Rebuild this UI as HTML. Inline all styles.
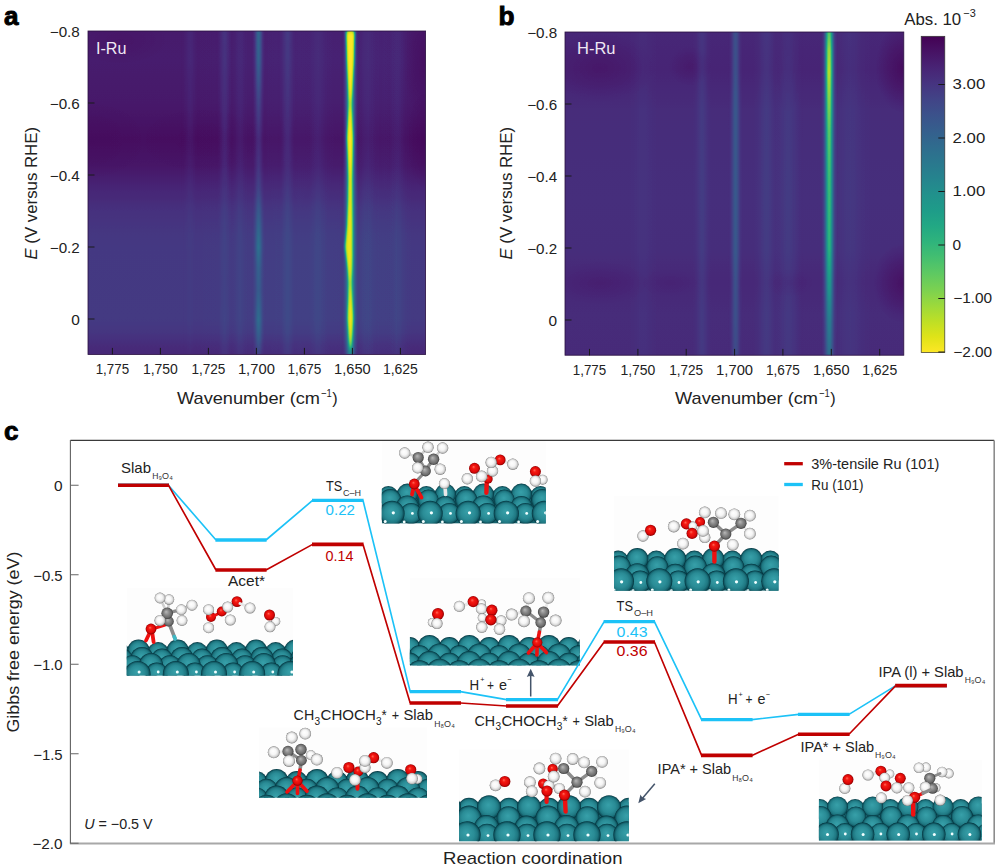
<!DOCTYPE html>
<html><head><meta charset="utf-8"><title>Figure</title>
<style>html,body{margin:0;padding:0;background:#fff}svg{display:block}text{font-family:"Liberation Sans", sans-serif}</style>
</head><body>
<svg width="999" height="868" viewBox="0 0 999 868">
<defs>
<filter id="vir" x="0" y="0" width="100%" height="100%" filterUnits="objectBoundingBox" color-interpolation-filters="sRGB">
<feComponentTransfer><feFuncR type="table" tableValues="0.267 0.278 0.282 0.275 0.255 0.231 0.208 0.184 0.165 0.145 0.129 0.118 0.133 0.184 0.267 0.369 0.478 0.608 0.741 0.875 0.992"/><feFuncG type="table" tableValues="0.004 0.075 0.141 0.204 0.267 0.322 0.373 0.424 0.471 0.518 0.569 0.612 0.659 0.706 0.749 0.788 0.820 0.851 0.875 0.890 0.906"/><feFuncB type="table" tableValues="0.329 0.396 0.459 0.502 0.529 0.545 0.553 0.557 0.557 0.557 0.549 0.537 0.518 0.486 0.439 0.384 0.318 0.235 0.149 0.094 0.145"/></feComponentTransfer></filter>
<filter id="b1" x="-50%" y="-5%" width="200%" height="110%"><feGaussianBlur stdDeviation="0.85 2.5"/></filter>
<filter id="b2" x="-50%" y="-5%" width="200%" height="110%"><feGaussianBlur stdDeviation="1.3 3"/></filter>
<clipPath id="ca"><rect x="88.0" y="31.0" width="337.6" height="323.5"/></clipPath>
<linearGradient id="g1" gradientUnits="userSpaceOnUse" x1="0" y1="31.0" x2="0" y2="354.5"><stop offset="0.000" stop-color="#131313"/><stop offset="0.090" stop-color="#141414"/><stop offset="0.223" stop-color="#111111"/><stop offset="0.334" stop-color="#0a0a0a"/><stop offset="0.414" stop-color="#0f0f0f"/><stop offset="0.491" stop-color="#1b1b1b"/><stop offset="0.556" stop-color="#242424"/><stop offset="0.631" stop-color="#292929"/><stop offset="0.668" stop-color="#2a2a2a"/><stop offset="0.890" stop-color="#2b2b2b"/><stop offset="0.930" stop-color="#282828"/><stop offset="0.971" stop-color="#202020"/><stop offset="1.000" stop-color="#1c1c1c"/></linearGradient>
<linearGradient id="g2" gradientUnits="userSpaceOnUse" x1="165.0" y1="0" x2="435.0" y2="0"><stop offset="0.000" stop-color="#fff" stop-opacity="0.000"/><stop offset="0.083" stop-color="#fff" stop-opacity="0.001"/><stop offset="0.167" stop-color="#fff" stop-opacity="0.003"/><stop offset="0.250" stop-color="#fff" stop-opacity="0.008"/><stop offset="0.333" stop-color="#fff" stop-opacity="0.015"/><stop offset="0.417" stop-color="#fff" stop-opacity="0.022"/><stop offset="0.500" stop-color="#fff" stop-opacity="0.025"/><stop offset="0.583" stop-color="#fff" stop-opacity="0.022"/><stop offset="0.667" stop-color="#fff" stop-opacity="0.015"/><stop offset="0.750" stop-color="#fff" stop-opacity="0.008"/><stop offset="0.833" stop-color="#fff" stop-opacity="0.003"/><stop offset="0.917" stop-color="#fff" stop-opacity="0.001"/><stop offset="1.000" stop-color="#fff" stop-opacity="0.000"/></linearGradient>
<linearGradient id="g3" gradientUnits="userSpaceOnUse" x1="349.0" y1="0" x2="421.0" y2="0"><stop offset="0.000" stop-color="#fff" stop-opacity="0.000"/><stop offset="0.083" stop-color="#fff" stop-opacity="0.001"/><stop offset="0.167" stop-color="#fff" stop-opacity="0.003"/><stop offset="0.250" stop-color="#fff" stop-opacity="0.006"/><stop offset="0.333" stop-color="#fff" stop-opacity="0.012"/><stop offset="0.417" stop-color="#fff" stop-opacity="0.018"/><stop offset="0.500" stop-color="#fff" stop-opacity="0.020"/><stop offset="0.583" stop-color="#fff" stop-opacity="0.018"/><stop offset="0.667" stop-color="#fff" stop-opacity="0.012"/><stop offset="0.750" stop-color="#fff" stop-opacity="0.006"/><stop offset="0.833" stop-color="#fff" stop-opacity="0.003"/><stop offset="0.917" stop-color="#fff" stop-opacity="0.001"/><stop offset="1.000" stop-color="#fff" stop-opacity="0.000"/></linearGradient>
<radialGradient id="g4"><stop offset="0" stop-color="#000" stop-opacity="0.5"/><stop offset=".5" stop-color="#000" stop-opacity="0.275"/><stop offset="1" stop-color="#000" stop-opacity="0"/></radialGradient>
<radialGradient id="g5"><stop offset="0" stop-color="#000" stop-opacity="0.45"/><stop offset=".5" stop-color="#000" stop-opacity="0.248"/><stop offset="1" stop-color="#000" stop-opacity="0"/></radialGradient>
<radialGradient id="g6"><stop offset="0" stop-color="#000" stop-opacity="0.25"/><stop offset=".5" stop-color="#000" stop-opacity="0.138"/><stop offset="1" stop-color="#000" stop-opacity="0"/></radialGradient>
<radialGradient id="g7"><stop offset="0" stop-color="#000" stop-opacity="0.2"/><stop offset=".5" stop-color="#000" stop-opacity="0.110"/><stop offset="1" stop-color="#000" stop-opacity="0"/></radialGradient>
<radialGradient id="g8"><stop offset="0" stop-color="#000" stop-opacity="0.25"/><stop offset=".5" stop-color="#000" stop-opacity="0.138"/><stop offset="1" stop-color="#000" stop-opacity="0"/></radialGradient>
<linearGradient id="g9" gradientUnits="userSpaceOnUse" x1="179.5" y1="0" x2="200.5" y2="0"><stop offset="0.000" stop-color="#fff" stop-opacity="0.000"/><stop offset="0.083" stop-color="#fff" stop-opacity="0.002"/><stop offset="0.167" stop-color="#fff" stop-opacity="0.005"/><stop offset="0.250" stop-color="#fff" stop-opacity="0.011"/><stop offset="0.333" stop-color="#fff" stop-opacity="0.021"/><stop offset="0.417" stop-color="#fff" stop-opacity="0.031"/><stop offset="0.500" stop-color="#fff" stop-opacity="0.035"/><stop offset="0.583" stop-color="#fff" stop-opacity="0.031"/><stop offset="0.667" stop-color="#fff" stop-opacity="0.021"/><stop offset="0.750" stop-color="#fff" stop-opacity="0.011"/><stop offset="0.833" stop-color="#fff" stop-opacity="0.005"/><stop offset="0.917" stop-color="#fff" stop-opacity="0.002"/><stop offset="1.000" stop-color="#fff" stop-opacity="0.000"/></linearGradient>
<linearGradient id="g10" gradientUnits="userSpaceOnUse" x1="0" y1="31.0" x2="0" y2="354.5"><stop offset="0.000" stop-color="#ffffff"/><stop offset="0.368" stop-color="#cccccc"/><stop offset="0.677" stop-color="#4c4c4c"/><stop offset="0.998" stop-color="#4c4c4c"/></linearGradient>
<mask id="m11" maskUnits="userSpaceOnUse" x="179.5" y="31.0" width="21.0" height="323.5"><rect x="179.5" y="31.0" width="21.0" height="323.5" fill="url(#g10)"/></mask>
<linearGradient id="g12" gradientUnits="userSpaceOnUse" x1="215.5" y1="0" x2="233.5" y2="0"><stop offset="0.000" stop-color="#fff" stop-opacity="0.001"/><stop offset="0.083" stop-color="#fff" stop-opacity="0.003"/><stop offset="0.167" stop-color="#fff" stop-opacity="0.010"/><stop offset="0.250" stop-color="#fff" stop-opacity="0.024"/><stop offset="0.333" stop-color="#fff" stop-opacity="0.045"/><stop offset="0.417" stop-color="#fff" stop-opacity="0.066"/><stop offset="0.500" stop-color="#fff" stop-opacity="0.075"/><stop offset="0.583" stop-color="#fff" stop-opacity="0.066"/><stop offset="0.667" stop-color="#fff" stop-opacity="0.045"/><stop offset="0.750" stop-color="#fff" stop-opacity="0.024"/><stop offset="0.833" stop-color="#fff" stop-opacity="0.010"/><stop offset="0.917" stop-color="#fff" stop-opacity="0.003"/><stop offset="1.000" stop-color="#fff" stop-opacity="0.001"/></linearGradient>
<linearGradient id="g13" gradientUnits="userSpaceOnUse" x1="0" y1="31.0" x2="0" y2="354.5"><stop offset="0.000" stop-color="#ffffff"/><stop offset="0.275" stop-color="#cccccc"/><stop offset="0.522" stop-color="#8c8c8c"/><stop offset="0.770" stop-color="#666666"/><stop offset="0.998" stop-color="#808080"/></linearGradient>
<mask id="m14" maskUnits="userSpaceOnUse" x="215.5" y="31.0" width="18.0" height="323.5"><rect x="215.5" y="31.0" width="18.0" height="323.5" fill="url(#g13)"/></mask>
<linearGradient id="g15" gradientUnits="userSpaceOnUse" x1="231.0" y1="0" x2="249.0" y2="0"><stop offset="0.000" stop-color="#fff" stop-opacity="0.000"/><stop offset="0.083" stop-color="#fff" stop-opacity="0.001"/><stop offset="0.167" stop-color="#fff" stop-opacity="0.004"/><stop offset="0.250" stop-color="#fff" stop-opacity="0.010"/><stop offset="0.333" stop-color="#fff" stop-opacity="0.018"/><stop offset="0.417" stop-color="#fff" stop-opacity="0.026"/><stop offset="0.500" stop-color="#fff" stop-opacity="0.030"/><stop offset="0.583" stop-color="#fff" stop-opacity="0.026"/><stop offset="0.667" stop-color="#fff" stop-opacity="0.018"/><stop offset="0.750" stop-color="#fff" stop-opacity="0.010"/><stop offset="0.833" stop-color="#fff" stop-opacity="0.004"/><stop offset="0.917" stop-color="#fff" stop-opacity="0.001"/><stop offset="1.000" stop-color="#fff" stop-opacity="0.000"/></linearGradient>
<linearGradient id="g16" gradientUnits="userSpaceOnUse" x1="277.9" y1="0" x2="297.1" y2="0"><stop offset="0.000" stop-color="#fff" stop-opacity="0.001"/><stop offset="0.083" stop-color="#fff" stop-opacity="0.004"/><stop offset="0.167" stop-color="#fff" stop-opacity="0.011"/><stop offset="0.250" stop-color="#fff" stop-opacity="0.026"/><stop offset="0.333" stop-color="#fff" stop-opacity="0.049"/><stop offset="0.417" stop-color="#fff" stop-opacity="0.071"/><stop offset="0.500" stop-color="#fff" stop-opacity="0.080"/><stop offset="0.583" stop-color="#fff" stop-opacity="0.071"/><stop offset="0.667" stop-color="#fff" stop-opacity="0.049"/><stop offset="0.750" stop-color="#fff" stop-opacity="0.026"/><stop offset="0.833" stop-color="#fff" stop-opacity="0.011"/><stop offset="0.917" stop-color="#fff" stop-opacity="0.004"/><stop offset="1.000" stop-color="#fff" stop-opacity="0.001"/></linearGradient>
<linearGradient id="g17" gradientUnits="userSpaceOnUse" x1="0" y1="31.0" x2="0" y2="354.5"><stop offset="0.000" stop-color="#ffffff"/><stop offset="0.337" stop-color="#b2b2b2"/><stop offset="0.615" stop-color="#808080"/><stop offset="0.998" stop-color="#808080"/></linearGradient>
<mask id="m18" maskUnits="userSpaceOnUse" x="277.9" y="31.0" width="19.2" height="323.5"><rect x="277.9" y="31.0" width="19.2" height="323.5" fill="url(#g17)"/></mask>
<linearGradient id="g19" gradientUnits="userSpaceOnUse" x1="251.7" y1="0" x2="265.5" y2="0"><stop offset="0.000" stop-color="#fff" stop-opacity="0.003"/><stop offset="0.083" stop-color="#fff" stop-opacity="0.012"/><stop offset="0.167" stop-color="#fff" stop-opacity="0.037"/><stop offset="0.250" stop-color="#fff" stop-opacity="0.088"/><stop offset="0.333" stop-color="#fff" stop-opacity="0.164"/><stop offset="0.417" stop-color="#fff" stop-opacity="0.238"/><stop offset="0.500" stop-color="#fff" stop-opacity="0.270"/><stop offset="0.583" stop-color="#fff" stop-opacity="0.238"/><stop offset="0.667" stop-color="#fff" stop-opacity="0.164"/><stop offset="0.750" stop-color="#fff" stop-opacity="0.088"/><stop offset="0.833" stop-color="#fff" stop-opacity="0.037"/><stop offset="0.917" stop-color="#fff" stop-opacity="0.012"/><stop offset="1.000" stop-color="#fff" stop-opacity="0.003"/></linearGradient>
<linearGradient id="g20" gradientUnits="userSpaceOnUse" x1="0" y1="31.0" x2="0" y2="354.5"><stop offset="0.000" stop-color="#ffffff"/><stop offset="0.090" stop-color="#e6e6e6"/><stop offset="0.213" stop-color="#808080"/><stop offset="0.337" stop-color="#474747"/><stop offset="0.491" stop-color="#595959"/><stop offset="0.600" stop-color="#b2b2b2"/><stop offset="0.668" stop-color="#e6e6e6"/><stop offset="0.733" stop-color="#999999"/><stop offset="0.801" stop-color="#808080"/><stop offset="0.893" stop-color="#cccccc"/><stop offset="0.955" stop-color="#8c8c8c"/><stop offset="0.998" stop-color="#4c4c4c"/></linearGradient>
<mask id="m21" maskUnits="userSpaceOnUse" x="251.7" y="31.0" width="13.8" height="323.5"><rect x="251.7" y="31.0" width="13.8" height="323.5" fill="url(#g20)"/></mask>
<linearGradient id="g22" gradientUnits="userSpaceOnUse" x1="306.0" y1="0" x2="330.0" y2="0"><stop offset="0.000" stop-color="#fff" stop-opacity="0.000"/><stop offset="0.083" stop-color="#fff" stop-opacity="0.001"/><stop offset="0.167" stop-color="#fff" stop-opacity="0.004"/><stop offset="0.250" stop-color="#fff" stop-opacity="0.010"/><stop offset="0.333" stop-color="#fff" stop-opacity="0.018"/><stop offset="0.417" stop-color="#fff" stop-opacity="0.026"/><stop offset="0.500" stop-color="#fff" stop-opacity="0.030"/><stop offset="0.583" stop-color="#fff" stop-opacity="0.026"/><stop offset="0.667" stop-color="#fff" stop-opacity="0.018"/><stop offset="0.750" stop-color="#fff" stop-opacity="0.010"/><stop offset="0.833" stop-color="#fff" stop-opacity="0.004"/><stop offset="0.917" stop-color="#fff" stop-opacity="0.001"/><stop offset="1.000" stop-color="#fff" stop-opacity="0.000"/></linearGradient>
<linearGradient id="g23" gradientUnits="userSpaceOnUse" x1="352.0" y1="0" x2="382.0" y2="0"><stop offset="0.000" stop-color="#fff" stop-opacity="0.000"/><stop offset="0.083" stop-color="#fff" stop-opacity="0.002"/><stop offset="0.167" stop-color="#fff" stop-opacity="0.005"/><stop offset="0.250" stop-color="#fff" stop-opacity="0.011"/><stop offset="0.333" stop-color="#fff" stop-opacity="0.021"/><stop offset="0.417" stop-color="#fff" stop-opacity="0.031"/><stop offset="0.500" stop-color="#fff" stop-opacity="0.035"/><stop offset="0.583" stop-color="#fff" stop-opacity="0.031"/><stop offset="0.667" stop-color="#fff" stop-opacity="0.021"/><stop offset="0.750" stop-color="#fff" stop-opacity="0.011"/><stop offset="0.833" stop-color="#fff" stop-opacity="0.005"/><stop offset="0.917" stop-color="#fff" stop-opacity="0.002"/><stop offset="1.000" stop-color="#fff" stop-opacity="0.000"/></linearGradient>
<linearGradient id="g24" gradientUnits="userSpaceOnUse" x1="386.0" y1="0" x2="410.0" y2="0"><stop offset="0.000" stop-color="#fff" stop-opacity="0.000"/><stop offset="0.083" stop-color="#fff" stop-opacity="0.001"/><stop offset="0.167" stop-color="#fff" stop-opacity="0.004"/><stop offset="0.250" stop-color="#fff" stop-opacity="0.010"/><stop offset="0.333" stop-color="#fff" stop-opacity="0.018"/><stop offset="0.417" stop-color="#fff" stop-opacity="0.026"/><stop offset="0.500" stop-color="#fff" stop-opacity="0.030"/><stop offset="0.583" stop-color="#fff" stop-opacity="0.026"/><stop offset="0.667" stop-color="#fff" stop-opacity="0.018"/><stop offset="0.750" stop-color="#fff" stop-opacity="0.010"/><stop offset="0.833" stop-color="#fff" stop-opacity="0.004"/><stop offset="0.917" stop-color="#fff" stop-opacity="0.001"/><stop offset="1.000" stop-color="#fff" stop-opacity="0.000"/></linearGradient>
<linearGradient id="g25" gradientUnits="userSpaceOnUse" x1="342.3" y1="0" x2="358.5" y2="0"><stop offset="0.000" stop-color="#fff" stop-opacity="0.008"/><stop offset="0.083" stop-color="#fff" stop-opacity="0.031"/><stop offset="0.167" stop-color="#fff" stop-opacity="0.095"/><stop offset="0.250" stop-color="#fff" stop-opacity="0.227"/><stop offset="0.333" stop-color="#fff" stop-opacity="0.425"/><stop offset="0.417" stop-color="#fff" stop-opacity="0.618"/><stop offset="0.500" stop-color="#fff" stop-opacity="0.700"/><stop offset="0.583" stop-color="#fff" stop-opacity="0.618"/><stop offset="0.667" stop-color="#fff" stop-opacity="0.425"/><stop offset="0.750" stop-color="#fff" stop-opacity="0.227"/><stop offset="0.833" stop-color="#fff" stop-opacity="0.095"/><stop offset="0.917" stop-color="#fff" stop-opacity="0.031"/><stop offset="1.000" stop-color="#fff" stop-opacity="0.008"/></linearGradient>
<linearGradient id="g26" gradientUnits="userSpaceOnUse" x1="0" y1="31.0" x2="0" y2="354.5"><stop offset="0.000" stop-color="#ffffff"/><stop offset="0.213" stop-color="#f2f2f2"/><stop offset="0.522" stop-color="#f2f2f2"/><stop offset="0.668" stop-color="#ffffff"/><stop offset="0.776" stop-color="#d9d9d9"/><stop offset="0.887" stop-color="#ffffff"/><stop offset="0.955" stop-color="#cccccc"/><stop offset="1.000" stop-color="#808080"/></linearGradient>
<mask id="m27" maskUnits="userSpaceOnUse" x="342.3" y="31.0" width="16.2" height="323.5"><rect x="342.3" y="31.0" width="16.2" height="323.5" fill="url(#g26)"/></mask>
<linearGradient id="g28" gradientUnits="userSpaceOnUse" x1="0" y1="31.0" x2="0" y2="354.5"><stop offset="0" stop-color="#fff"/><stop offset=".4" stop-color="#fff"/><stop offset=".52" stop-color="#fff" stop-opacity=".8"/><stop offset="1" stop-color="#fff" stop-opacity=".8"/></linearGradient>
<clipPath id="cb"><rect x="565.0" y="32.0" width="338.79999999999995" height="323.2"/></clipPath>
<linearGradient id="g29" gradientUnits="userSpaceOnUse" x1="0" y1="32.0" x2="0" y2="355.2"><stop offset="0.000" stop-color="#1c1c1c"/><stop offset="0.118" stop-color="#1a1a1a"/><stop offset="0.241" stop-color="#202020"/><stop offset="0.520" stop-color="#222222"/><stop offset="0.675" stop-color="#212121"/><stop offset="0.777" stop-color="#1d1d1d"/><stop offset="0.876" stop-color="#202020"/><stop offset="1.000" stop-color="#1f1f1f"/></linearGradient>
<radialGradient id="g30"><stop offset="0" stop-color="#000" stop-opacity="0.38"/><stop offset=".5" stop-color="#000" stop-opacity="0.209"/><stop offset="1" stop-color="#000" stop-opacity="0"/></radialGradient>
<radialGradient id="g31"><stop offset="0" stop-color="#000" stop-opacity="0.3"/><stop offset=".5" stop-color="#000" stop-opacity="0.165"/><stop offset="1" stop-color="#000" stop-opacity="0"/></radialGradient>
<radialGradient id="g32"><stop offset="0" stop-color="#000" stop-opacity="0.7"/><stop offset=".5" stop-color="#000" stop-opacity="0.385"/><stop offset="1" stop-color="#000" stop-opacity="0"/></radialGradient>
<radialGradient id="g33"><stop offset="0" stop-color="#000" stop-opacity="0.25"/><stop offset=".5" stop-color="#000" stop-opacity="0.138"/><stop offset="1" stop-color="#000" stop-opacity="0"/></radialGradient>
<radialGradient id="g34"><stop offset="0" stop-color="#000" stop-opacity="0.6"/><stop offset=".5" stop-color="#000" stop-opacity="0.330"/><stop offset="1" stop-color="#000" stop-opacity="0"/></radialGradient>
<radialGradient id="g35"><stop offset="0" stop-color="#000" stop-opacity="0.15"/><stop offset=".5" stop-color="#000" stop-opacity="0.083"/><stop offset="1" stop-color="#000" stop-opacity="0"/></radialGradient>
<radialGradient id="g36"><stop offset="0" stop-color="#000" stop-opacity="0.15"/><stop offset=".5" stop-color="#000" stop-opacity="0.083"/><stop offset="1" stop-color="#000" stop-opacity="0"/></radialGradient>
<linearGradient id="g37" gradientUnits="userSpaceOnUse" x1="625.0" y1="0" x2="661.0" y2="0"><stop offset="0.000" stop-color="#fff" stop-opacity="0.000"/><stop offset="0.083" stop-color="#fff" stop-opacity="0.001"/><stop offset="0.167" stop-color="#fff" stop-opacity="0.003"/><stop offset="0.250" stop-color="#fff" stop-opacity="0.006"/><stop offset="0.333" stop-color="#fff" stop-opacity="0.012"/><stop offset="0.417" stop-color="#fff" stop-opacity="0.018"/><stop offset="0.500" stop-color="#fff" stop-opacity="0.020"/><stop offset="0.583" stop-color="#fff" stop-opacity="0.018"/><stop offset="0.667" stop-color="#fff" stop-opacity="0.012"/><stop offset="0.750" stop-color="#fff" stop-opacity="0.006"/><stop offset="0.833" stop-color="#fff" stop-opacity="0.003"/><stop offset="0.917" stop-color="#fff" stop-opacity="0.001"/><stop offset="1.000" stop-color="#fff" stop-opacity="0.000"/></linearGradient>
<linearGradient id="g38" gradientUnits="userSpaceOnUse" x1="691.5" y1="0" x2="712.5" y2="0"><stop offset="0.000" stop-color="#fff" stop-opacity="0.001"/><stop offset="0.083" stop-color="#fff" stop-opacity="0.002"/><stop offset="0.167" stop-color="#fff" stop-opacity="0.007"/><stop offset="0.250" stop-color="#fff" stop-opacity="0.016"/><stop offset="0.333" stop-color="#fff" stop-opacity="0.030"/><stop offset="0.417" stop-color="#fff" stop-opacity="0.044"/><stop offset="0.500" stop-color="#fff" stop-opacity="0.050"/><stop offset="0.583" stop-color="#fff" stop-opacity="0.044"/><stop offset="0.667" stop-color="#fff" stop-opacity="0.030"/><stop offset="0.750" stop-color="#fff" stop-opacity="0.016"/><stop offset="0.833" stop-color="#fff" stop-opacity="0.007"/><stop offset="0.917" stop-color="#fff" stop-opacity="0.002"/><stop offset="1.000" stop-color="#fff" stop-opacity="0.001"/></linearGradient>
<linearGradient id="g39" gradientUnits="userSpaceOnUse" x1="751.5" y1="0" x2="781.5" y2="0"><stop offset="0.000" stop-color="#fff" stop-opacity="0.001"/><stop offset="0.083" stop-color="#fff" stop-opacity="0.002"/><stop offset="0.167" stop-color="#fff" stop-opacity="0.007"/><stop offset="0.250" stop-color="#fff" stop-opacity="0.016"/><stop offset="0.333" stop-color="#fff" stop-opacity="0.030"/><stop offset="0.417" stop-color="#fff" stop-opacity="0.044"/><stop offset="0.500" stop-color="#fff" stop-opacity="0.050"/><stop offset="0.583" stop-color="#fff" stop-opacity="0.044"/><stop offset="0.667" stop-color="#fff" stop-opacity="0.030"/><stop offset="0.750" stop-color="#fff" stop-opacity="0.016"/><stop offset="0.833" stop-color="#fff" stop-opacity="0.007"/><stop offset="0.917" stop-color="#fff" stop-opacity="0.002"/><stop offset="1.000" stop-color="#fff" stop-opacity="0.001"/></linearGradient>
<linearGradient id="g40" gradientUnits="userSpaceOnUse" x1="770.0" y1="0" x2="806.0" y2="0"><stop offset="0.000" stop-color="#fff" stop-opacity="0.001"/><stop offset="0.083" stop-color="#fff" stop-opacity="0.002"/><stop offset="0.167" stop-color="#fff" stop-opacity="0.007"/><stop offset="0.250" stop-color="#fff" stop-opacity="0.016"/><stop offset="0.333" stop-color="#fff" stop-opacity="0.030"/><stop offset="0.417" stop-color="#fff" stop-opacity="0.044"/><stop offset="0.500" stop-color="#fff" stop-opacity="0.050"/><stop offset="0.583" stop-color="#fff" stop-opacity="0.044"/><stop offset="0.667" stop-color="#fff" stop-opacity="0.030"/><stop offset="0.750" stop-color="#fff" stop-opacity="0.016"/><stop offset="0.833" stop-color="#fff" stop-opacity="0.007"/><stop offset="0.917" stop-color="#fff" stop-opacity="0.002"/><stop offset="1.000" stop-color="#fff" stop-opacity="0.001"/></linearGradient>
<linearGradient id="g41" gradientUnits="userSpaceOnUse" x1="0" y1="32.0" x2="0" y2="355.2"><stop offset="0.000" stop-color="#999999"/><stop offset="0.272" stop-color="#ffffff"/><stop offset="0.999" stop-color="#ffffff"/></linearGradient>
<mask id="m42" maskUnits="userSpaceOnUse" x="770.0" y="32.0" width="36.0" height="323.2"><rect x="770.0" y="32.0" width="36.0" height="323.2" fill="url(#g41)"/></mask>
<linearGradient id="g43" gradientUnits="userSpaceOnUse" x1="728.1" y1="0" x2="743.1" y2="0"><stop offset="0.000" stop-color="#fff" stop-opacity="0.002"/><stop offset="0.083" stop-color="#fff" stop-opacity="0.007"/><stop offset="0.167" stop-color="#fff" stop-opacity="0.023"/><stop offset="0.250" stop-color="#fff" stop-opacity="0.055"/><stop offset="0.333" stop-color="#fff" stop-opacity="0.103"/><stop offset="0.417" stop-color="#fff" stop-opacity="0.150"/><stop offset="0.500" stop-color="#fff" stop-opacity="0.170"/><stop offset="0.583" stop-color="#fff" stop-opacity="0.150"/><stop offset="0.667" stop-color="#fff" stop-opacity="0.103"/><stop offset="0.750" stop-color="#fff" stop-opacity="0.055"/><stop offset="0.833" stop-color="#fff" stop-opacity="0.023"/><stop offset="0.917" stop-color="#fff" stop-opacity="0.007"/><stop offset="1.000" stop-color="#fff" stop-opacity="0.002"/></linearGradient>
<linearGradient id="g44" gradientUnits="userSpaceOnUse" x1="0" y1="32.0" x2="0" y2="355.2"><stop offset="0.000" stop-color="#e6e6e6"/><stop offset="0.210" stop-color="#ffffff"/><stop offset="0.675" stop-color="#ffffff"/><stop offset="0.829" stop-color="#d9d9d9"/><stop offset="1.000" stop-color="#b2b2b2"/></linearGradient>
<mask id="m45" maskUnits="userSpaceOnUse" x="728.1" y="32.0" width="15.0" height="323.2"><rect x="728.1" y="32.0" width="15.0" height="323.2" fill="url(#g44)"/></mask>
<linearGradient id="g46" gradientUnits="userSpaceOnUse" x1="826.0" y1="0" x2="874.0" y2="0"><stop offset="0.000" stop-color="#fff" stop-opacity="0.000"/><stop offset="0.083" stop-color="#fff" stop-opacity="0.002"/><stop offset="0.167" stop-color="#fff" stop-opacity="0.005"/><stop offset="0.250" stop-color="#fff" stop-opacity="0.011"/><stop offset="0.333" stop-color="#fff" stop-opacity="0.021"/><stop offset="0.417" stop-color="#fff" stop-opacity="0.031"/><stop offset="0.500" stop-color="#fff" stop-opacity="0.035"/><stop offset="0.583" stop-color="#fff" stop-opacity="0.031"/><stop offset="0.667" stop-color="#fff" stop-opacity="0.021"/><stop offset="0.750" stop-color="#fff" stop-opacity="0.011"/><stop offset="0.833" stop-color="#fff" stop-opacity="0.005"/><stop offset="0.917" stop-color="#fff" stop-opacity="0.002"/><stop offset="1.000" stop-color="#fff" stop-opacity="0.000"/></linearGradient>
<linearGradient id="g47" gradientUnits="userSpaceOnUse" x1="821.1" y1="0" x2="837.3" y2="0"><stop offset="0.000" stop-color="#fff" stop-opacity="0.007"/><stop offset="0.083" stop-color="#fff" stop-opacity="0.028"/><stop offset="0.167" stop-color="#fff" stop-opacity="0.087"/><stop offset="0.250" stop-color="#fff" stop-opacity="0.208"/><stop offset="0.333" stop-color="#fff" stop-opacity="0.388"/><stop offset="0.417" stop-color="#fff" stop-opacity="0.565"/><stop offset="0.500" stop-color="#fff" stop-opacity="0.640"/><stop offset="0.583" stop-color="#fff" stop-opacity="0.565"/><stop offset="0.667" stop-color="#fff" stop-opacity="0.388"/><stop offset="0.750" stop-color="#fff" stop-opacity="0.208"/><stop offset="0.833" stop-color="#fff" stop-opacity="0.087"/><stop offset="0.917" stop-color="#fff" stop-opacity="0.028"/><stop offset="1.000" stop-color="#fff" stop-opacity="0.007"/></linearGradient>
<linearGradient id="g48" gradientUnits="userSpaceOnUse" x1="0" y1="32.0" x2="0" y2="355.2"><stop offset="0.000" stop-color="#d9d9d9"/><stop offset="0.056" stop-color="#ffffff"/><stop offset="0.665" stop-color="#e6e6e6"/><stop offset="0.798" stop-color="#b8b8b8"/><stop offset="0.891" stop-color="#8c8c8c"/><stop offset="1.000" stop-color="#6b6b6b"/></linearGradient>
<mask id="m49" maskUnits="userSpaceOnUse" x="821.1" y="32.0" width="16.2" height="323.2"><rect x="821.1" y="32.0" width="16.2" height="323.2" fill="url(#g48)"/></mask>
<linearGradient id="g50" gradientUnits="userSpaceOnUse" x1="823.3" y1="0" x2="834.7" y2="0"><stop offset="0.000" stop-color="#fff" stop-opacity="0.008"/><stop offset="0.083" stop-color="#fff" stop-opacity="0.032"/><stop offset="0.167" stop-color="#fff" stop-opacity="0.097"/><stop offset="0.250" stop-color="#fff" stop-opacity="0.234"/><stop offset="0.333" stop-color="#fff" stop-opacity="0.437"/><stop offset="0.417" stop-color="#fff" stop-opacity="0.635"/><stop offset="0.500" stop-color="#fff" stop-opacity="0.720"/><stop offset="0.583" stop-color="#fff" stop-opacity="0.635"/><stop offset="0.667" stop-color="#fff" stop-opacity="0.437"/><stop offset="0.750" stop-color="#fff" stop-opacity="0.234"/><stop offset="0.833" stop-color="#fff" stop-opacity="0.097"/><stop offset="0.917" stop-color="#fff" stop-opacity="0.032"/><stop offset="1.000" stop-color="#fff" stop-opacity="0.008"/></linearGradient>
<linearGradient id="g51" gradientUnits="userSpaceOnUse" x1="0" y1="32.0" x2="0" y2="355.2"><stop offset="0.000" stop-color="#808080"/><stop offset="0.056" stop-color="#cccccc"/><stop offset="0.124" stop-color="#ffffff"/><stop offset="0.195" stop-color="#bfbfbf"/><stop offset="0.303" stop-color="#666666"/><stop offset="0.458" stop-color="#333333"/><stop offset="0.675" stop-color="#1a1a1a"/><stop offset="0.829" stop-color="#000000"/><stop offset="0.999" stop-color="#000000"/></linearGradient>
<mask id="m52" maskUnits="userSpaceOnUse" x="823.3" y="32.0" width="11.4" height="323.2"><rect x="823.3" y="32.0" width="11.4" height="323.2" fill="url(#g51)"/></mask>
<linearGradient id="g53" x1="0" y1="0" x2="0" y2="1"><stop offset="0.00" stop-color="#440154"/><stop offset="0.05" stop-color="#471365"/><stop offset="0.10" stop-color="#482475"/><stop offset="0.15" stop-color="#463480"/><stop offset="0.20" stop-color="#414487"/><stop offset="0.25" stop-color="#3b528b"/><stop offset="0.30" stop-color="#355f8d"/><stop offset="0.35" stop-color="#2f6c8e"/><stop offset="0.40" stop-color="#2a788e"/><stop offset="0.45" stop-color="#25848e"/><stop offset="0.50" stop-color="#21918c"/><stop offset="0.55" stop-color="#1e9c89"/><stop offset="0.60" stop-color="#22a884"/><stop offset="0.65" stop-color="#2fb47c"/><stop offset="0.70" stop-color="#44bf70"/><stop offset="0.75" stop-color="#5ec962"/><stop offset="0.80" stop-color="#7ad151"/><stop offset="0.85" stop-color="#9bd93c"/><stop offset="0.90" stop-color="#bddf26"/><stop offset="0.95" stop-color="#dfe318"/><stop offset="1.00" stop-color="#fde725"/></linearGradient>
<radialGradient id="gRu" cx=".5" cy=".5" r=".5" fx=".47" fy=".4"><stop offset="0" stop-color="#37a0a9"/><stop offset=".55" stop-color="#2a8c96"/><stop offset=".78" stop-color="#1f7882"/><stop offset=".9" stop-color="#115a65"/><stop offset="1" stop-color="#02303a"/></radialGradient>
<radialGradient id="gH" cx=".5" cy=".5" r=".5" fx=".42" fy=".38"><stop offset="0" stop-color="#fff"/><stop offset=".5" stop-color="#f6f6f6"/><stop offset=".75" stop-color="#dcdcdc"/><stop offset=".9" stop-color="#b4b4b4"/><stop offset="1" stop-color="#6c6c6c"/></radialGradient>
<radialGradient id="gO" cx=".5" cy=".5" r=".5" fx=".4" fy=".36"><stop offset="0" stop-color="#ff6a5a"/><stop offset=".3" stop-color="#f51a12"/><stop offset=".75" stop-color="#dd0808"/><stop offset="1" stop-color="#8a0000"/></radialGradient>
<radialGradient id="gC" cx=".5" cy=".5" r=".5" fx=".4" fy=".36"><stop offset="0" stop-color="#b9b9b9"/><stop offset=".45" stop-color="#8a8a8a"/><stop offset=".8" stop-color="#6a6a6a"/><stop offset="1" stop-color="#3c3c3c"/></radialGradient>
<clipPath id="c54"><rect x="126.8" y="588.0" width="166.2" height="87.5"/></clipPath>
<clipPath id="c55"><rect x="381.8" y="441.2" width="164.0" height="82.4"/></clipPath>
<clipPath id="c56"><rect x="409.9" y="578.0" width="169.8" height="87.3"/></clipPath>
<clipPath id="c57"><rect x="259.1" y="727.6" width="167.8" height="70.0"/></clipPath>
<clipPath id="c58"><rect x="459.1" y="749.5" width="169.7" height="91.7"/></clipPath>
<clipPath id="c59"><rect x="614.1" y="495.7" width="164.5" height="95.1"/></clipPath>
<clipPath id="c60"><rect x="818.9" y="760.0" width="162.8" height="80.5"/></clipPath>
</defs>
<rect width="999" height="868" fill="#fff"/>
<g fill="#222">
<g clip-path="url(#ca)"><g filter="url(#vir)">
<rect x="87.0" y="30.0" width="339.6" height="325.5" fill="url(#g1)"/>
<rect x="165.0" y="31.0" width="270.0" height="323.5" fill="url(#g2)"/>
<rect x="349.0" y="31.0" width="72.0" height="323.5" fill="url(#g3)"/>
<ellipse cx="425" cy="60" rx="22" ry="60" fill="url(#g4)"/>
<ellipse cx="425" cy="140" rx="18" ry="50" fill="url(#g5)"/>
<ellipse cx="92" cy="140" rx="60" ry="40" fill="url(#g6)"/>
<ellipse cx="200" cy="140" rx="70" ry="35" fill="url(#g7)"/>
<ellipse cx="120" cy="40" rx="50" ry="25" fill="url(#g8)"/>
<rect x="179.5" y="31.0" width="21.0" height="323.5" fill="url(#g9)" mask="url(#m11)"/>
<rect x="215.5" y="31.0" width="18.0" height="323.5" fill="url(#g12)" mask="url(#m14)"/>
<rect x="231.0" y="31.0" width="18.0" height="323.5" fill="url(#g15)"/>
<rect x="277.9" y="31.0" width="19.2" height="323.5" fill="url(#g16)" mask="url(#m18)"/>
<rect x="251.7" y="31.0" width="13.8" height="323.5" fill="url(#g19)" mask="url(#m21)"/>
<rect x="306.0" y="31.0" width="24.0" height="323.5" fill="url(#g22)"/>
<rect x="352.0" y="31.0" width="30.0" height="323.5" fill="url(#g23)"/>
<rect x="386.0" y="31.0" width="24.0" height="323.5" fill="url(#g24)"/>
<rect x="342.3" y="31.0" width="16.2" height="323.5" fill="url(#g25)" mask="url(#m27)"/>
<path d="M346.6 31 L347.3 60 L348.8 90 L349.4 104 L348.5 120 L347.4 138 L348.4 160 L349.0 178 L348.6 200 L347.5 225 L346.0 240 L345.3 247 L346.5 256 L348.3 270 L349.3 283 L348.9 300 L348.3 312 L348.2 320 L348.9 330 L349.6 340 L350.2 348 L350.6 348 L351.2 340 L352.0 330 L352.6 320 L352.4 312 L351.6 300 L350.6 283 L351.4 270 L351.8 256 L351.6 247 L351.7 240 L351.8 225 L351.6 200 L351.4 178 L352.0 160 L352.5 138 L351.6 120 L350.6 104 L351.8 90 L353.6 60 L354.2 31Z" fill="#fff" opacity=".55" filter="url(#b2)"/>
<path d="M346.6 31 L347.3 60 L348.8 90 L349.4 104 L348.5 120 L347.4 138 L348.4 160 L349.0 178 L348.6 200 L347.5 225 L346.0 240 L345.3 247 L346.5 256 L348.3 270 L349.3 283 L348.9 300 L348.3 312 L348.2 320 L348.9 330 L349.6 340 L350.2 348 L350.6 348 L351.2 340 L352.0 330 L352.6 320 L352.4 312 L351.6 300 L350.6 283 L351.4 270 L351.8 256 L351.6 247 L351.7 240 L351.8 225 L351.6 200 L351.4 178 L352.0 160 L352.5 138 L351.6 120 L350.6 104 L351.8 90 L353.6 60 L354.2 31Z" fill="url(#g28)" stroke="url(#g28)" stroke-width=".3" filter="url(#b1)"/>
</g></g>
<g clip-path="url(#cb)"><g filter="url(#vir)">
<rect x="564.0" y="31.0" width="340.79999999999995" height="325.2" fill="url(#g29)"/>
<ellipse cx="600" cy="68" rx="55" ry="35" fill="url(#g30)"/>
<ellipse cx="690" cy="66" rx="22" ry="20" fill="url(#g31)"/>
<ellipse cx="903" cy="68" rx="28" ry="45" fill="url(#g32)"/>
<ellipse cx="600" cy="283" rx="50" ry="22" fill="url(#g33)"/>
<ellipse cx="903" cy="283" rx="30" ry="40" fill="url(#g34)"/>
<ellipse cx="670" cy="283" rx="30" ry="15" fill="url(#g35)"/>
<ellipse cx="790" cy="283" rx="25" ry="15" fill="url(#g36)"/>
<rect x="625.0" y="32.0" width="36.0" height="323.2" fill="url(#g37)"/>
<rect x="691.5" y="32.0" width="21.0" height="323.2" fill="url(#g38)"/>
<rect x="751.5" y="32.0" width="30.0" height="323.2" fill="url(#g39)"/>
<rect x="770.0" y="32.0" width="36.0" height="323.2" fill="url(#g40)" mask="url(#m42)"/>
<rect x="728.1" y="32.0" width="15.0" height="323.2" fill="url(#g43)" mask="url(#m45)"/>
<rect x="826.0" y="32.0" width="48.0" height="323.2" fill="url(#g46)"/>
<rect x="821.1" y="32.0" width="16.2" height="323.2" fill="url(#g47)" mask="url(#m49)"/>
<rect x="823.3" y="32.0" width="11.4" height="323.2" fill="url(#g50)" mask="url(#m52)"/>
</g></g>
<rect x="921.2" y="36.3" width="23.6" height="316.3" fill="url(#g53)" stroke="#333" stroke-width=".7"/>
<rect x="88.0" y="31.0" width="337.6" height="323.5" fill="none" stroke="#2a1040" stroke-width=".8"/>
<rect x="565.0" y="32.0" width="338.8" height="323.2" fill="none" stroke="#2a1040" stroke-width=".8"/>
<text x="79.8" y="36.7" font-size="14" text-anchor="end" textLength="30.0" lengthAdjust="spacingAndGlyphs">−0.8</text>
<text x="79.8" y="108.7" font-size="14" text-anchor="end" textLength="30.0" lengthAdjust="spacingAndGlyphs">−0.6</text>
<text x="79.8" y="180.7" font-size="14" text-anchor="end" textLength="30.0" lengthAdjust="spacingAndGlyphs">−0.4</text>
<text x="79.8" y="252.7" font-size="14" text-anchor="end" textLength="30.0" lengthAdjust="spacingAndGlyphs">−0.2</text>
<text x="79.8" y="324.7" font-size="14" text-anchor="end" textLength="8.6" lengthAdjust="spacingAndGlyphs">0</text>
<text x="112.4" y="373.7" font-size="14" text-anchor="middle" textLength="33.4" lengthAdjust="spacingAndGlyphs">1,775</text>
<text x="160.4" y="373.7" font-size="14" text-anchor="middle" textLength="35.0" lengthAdjust="spacingAndGlyphs">1,750</text>
<text x="208.4" y="373.7" font-size="14" text-anchor="middle" textLength="34.0" lengthAdjust="spacingAndGlyphs">1,725</text>
<text x="256.4" y="373.7" font-size="14" text-anchor="middle" textLength="37.0" lengthAdjust="spacingAndGlyphs">1,700</text>
<text x="304.4" y="373.7" font-size="14" text-anchor="middle" textLength="34.0" lengthAdjust="spacingAndGlyphs">1,675</text>
<text x="352.4" y="373.7" font-size="14" text-anchor="middle" textLength="36.6" lengthAdjust="spacingAndGlyphs">1,650</text>
<text x="400.4" y="373.7" font-size="14" text-anchor="middle" textLength="35.0" lengthAdjust="spacingAndGlyphs">1,625</text>
<path d="M88.0 103.0h6.5M88.0 175.0h6.5M88.0 247.0h6.5M88.0 319.0h6.5M112.4 354.4v-6.5M160.4 354.4v-6.5M208.4 354.4v-6.5M256.4 354.4v-6.5M304.4 354.4v-6.5M352.4 354.4v-6.5M400.4 354.4v-6.5" stroke="#1a1a1a" stroke-width="1" fill="none"/>
<text x="36.6" y="259.5" font-size="16" textLength="132.5" lengthAdjust="spacingAndGlyphs" transform="rotate(-90 36.6 259.5)"><tspan font-style="italic">E</tspan> (V versus RHE)</text>
<text x="177.0" y="404.0" font-size="17" textLength="143.0" lengthAdjust="spacingAndGlyphs">Wavenumber (cm</text>
<text x="321.0" y="397.3" font-size="11" textLength="10.8" lengthAdjust="spacingAndGlyphs">−1</text>
<text x="332.2" y="404.0" font-size="17" textLength="5.4" lengthAdjust="spacingAndGlyphs">)</text>
<text x="96.0" y="54.4" font-size="16" textLength="30.5" lengthAdjust="spacingAndGlyphs" fill="#efe9f4">I-Ru</text>
<text x="557.2" y="37.7" font-size="14" text-anchor="end" textLength="30.0" lengthAdjust="spacingAndGlyphs">−0.8</text>
<text x="557.2" y="109.7" font-size="14" text-anchor="end" textLength="30.0" lengthAdjust="spacingAndGlyphs">−0.6</text>
<text x="557.2" y="181.7" font-size="14" text-anchor="end" textLength="30.0" lengthAdjust="spacingAndGlyphs">−0.4</text>
<text x="557.2" y="253.7" font-size="14" text-anchor="end" textLength="30.0" lengthAdjust="spacingAndGlyphs">−0.2</text>
<text x="557.2" y="325.7" font-size="14" text-anchor="end" textLength="8.6" lengthAdjust="spacingAndGlyphs">0</text>
<text x="589.5" y="374.7" font-size="14" text-anchor="middle" textLength="33.4" lengthAdjust="spacingAndGlyphs">1,775</text>
<text x="637.9" y="374.7" font-size="14" text-anchor="middle" textLength="35.0" lengthAdjust="spacingAndGlyphs">1,750</text>
<text x="686.2" y="374.7" font-size="14" text-anchor="middle" textLength="34.0" lengthAdjust="spacingAndGlyphs">1,725</text>
<text x="734.6" y="374.7" font-size="14" text-anchor="middle" textLength="37.0" lengthAdjust="spacingAndGlyphs">1,700</text>
<text x="782.9" y="374.7" font-size="14" text-anchor="middle" textLength="34.0" lengthAdjust="spacingAndGlyphs">1,675</text>
<text x="831.3" y="374.7" font-size="14" text-anchor="middle" textLength="36.6" lengthAdjust="spacingAndGlyphs">1,650</text>
<text x="879.7" y="374.7" font-size="14" text-anchor="middle" textLength="35.0" lengthAdjust="spacingAndGlyphs">1,625</text>
<path d="M565.0 104.0h6.5M565.0 176.0h6.5M565.0 248.0h6.5M565.0 320.0h6.5M589.5 355.4v-6.5M637.9 355.4v-6.5M686.2 355.4v-6.5M734.6 355.4v-6.5M782.9 355.4v-6.5M831.3 355.4v-6.5M879.7 355.4v-6.5" stroke="#1a1a1a" stroke-width="1" fill="none"/>
<text x="512.3" y="259.5" font-size="16" textLength="132.5" lengthAdjust="spacingAndGlyphs" transform="rotate(-90 512.3 259.5)"><tspan font-style="italic">E</tspan> (V versus RHE)</text>
<text x="675.0" y="404.0" font-size="17" textLength="143.0" lengthAdjust="spacingAndGlyphs">Wavenumber (cm</text>
<text x="819.0" y="397.3" font-size="11" textLength="10.8" lengthAdjust="spacingAndGlyphs">−1</text>
<text x="830.2" y="404.0" font-size="17" textLength="5.4" lengthAdjust="spacingAndGlyphs">)</text>
<text x="577.0" y="54.4" font-size="16" textLength="38.5" lengthAdjust="spacingAndGlyphs" fill="#efe9f4">H-Ru</text>
<text x="952.6" y="89.4" font-size="14" textLength="32.6" lengthAdjust="spacingAndGlyphs">3.00</text>
<text x="952.6" y="142.9" font-size="14" textLength="32.6" lengthAdjust="spacingAndGlyphs">2.00</text>
<text x="952.6" y="196.4" font-size="14" textLength="32.6" lengthAdjust="spacingAndGlyphs">1.00</text>
<text x="952.6" y="249.9" font-size="14" textLength="8.6" lengthAdjust="spacingAndGlyphs">0</text>
<text x="953.2" y="303.4" font-size="14" textLength="39.0" lengthAdjust="spacingAndGlyphs">−1.00</text>
<text x="953.2" y="356.9" font-size="14" textLength="39.0" lengthAdjust="spacingAndGlyphs">−2.00</text>
<path d="M944.8 84.5h-6.5M944.8 138.0h-6.5M944.8 191.5h-6.5M944.8 245.0h-6.5M944.8 298.5h-6.5M944.8 352.0h-6.5" stroke="#1a1a1a" stroke-width="1" fill="none"/>
<text x="904.2" y="24.9" font-size="17" textLength="57.0" lengthAdjust="spacingAndGlyphs">Abs. 10</text>
<text x="963.3" y="17.2" font-size="11" textLength="12.4" lengthAdjust="spacingAndGlyphs">−3</text>
<text x="4.0" y="24.8" font-size="25" textLength="14.5" lengthAdjust="spacingAndGlyphs" fill="#000" font-weight="bold" stroke="#000" stroke-width=".9">a</text>
<text x="498.5" y="24.8" font-size="25" textLength="16.0" lengthAdjust="spacingAndGlyphs" fill="#000" font-weight="bold" stroke="#000" stroke-width=".9">b</text>
<text x="4.0" y="440.0" font-size="25" textLength="14.5" lengthAdjust="spacingAndGlyphs" fill="#000" font-weight="bold" stroke="#000" stroke-width=".9">c</text>
<path d="M70.4 440.4H994.2" stroke="#3a3a3a" stroke-width="1.1" fill="none"/>
<path d="M994.2 440.4V843.6" stroke="#8c8c8c" stroke-width="1.6" fill="none"/>
<path d="M69.9 843.6H995.0" stroke="#a8a8a8" stroke-width="2" fill="none"/>
<path d="M70.4 439.9V843.6" stroke="#606060" stroke-width="1.1" fill="none"/>
<text x="62.6" y="491.4" font-size="14.5" text-anchor="end" textLength="8.6" lengthAdjust="spacingAndGlyphs">0</text>
<text x="62.6" y="580.9" font-size="14.5" text-anchor="end" textLength="29.4" lengthAdjust="spacingAndGlyphs">−0.5</text>
<text x="62.6" y="670.4" font-size="14.5" text-anchor="end" textLength="29.4" lengthAdjust="spacingAndGlyphs">−1.0</text>
<text x="62.6" y="759.9" font-size="14.5" text-anchor="end" textLength="29.4" lengthAdjust="spacingAndGlyphs">−1.5</text>
<text x="62.6" y="849.4" font-size="14.5" text-anchor="end" textLength="30.2" lengthAdjust="spacingAndGlyphs">−2.0</text>
<path d="M70.4 485.2h8.2M70.4 574.7h8.2M70.4 664.2h8.2M70.4 753.7h8.2M70.4 843.2h8.2" stroke="#666" stroke-width="1.1" fill="none"/>
<text x="18.6" y="732.6" font-size="17" textLength="181.0" lengthAdjust="spacingAndGlyphs" transform="rotate(-90 18.6 732.6)">Gibbs free energy (eV)</text>
<text x="443.0" y="863.8" font-size="17" textLength="179.5" lengthAdjust="spacingAndGlyphs">Reaction coordination</text>
<text x="84.2" y="828.6" font-size="14.5" textLength="68.4" lengthAdjust="spacingAndGlyphs"><tspan font-style="italic">U</tspan> = −0.5 V</text>
<rect x="126.8" y="588.0" width="166.2" height="87.5" fill="#fdfdfd"/>
<g clip-path="url(#c54)">
<rect x="126.8" y="646.5" width="166.2" height="29.0" fill="#15626c"/>
<circle cx="118.9" cy="652.5" r="10.4" fill="url(#gRu)"/>
<circle cx="158.1" cy="652.5" r="10.4" fill="url(#gRu)"/>
<circle cx="197.3" cy="652.5" r="10.4" fill="url(#gRu)"/>
<circle cx="236.5" cy="652.5" r="10.4" fill="url(#gRu)"/>
<circle cx="275.7" cy="652.5" r="10.4" fill="url(#gRu)"/>
<circle cx="138.5" cy="650.5" r="11.0" fill="url(#gRu)"/>
<circle cx="177.7" cy="650.5" r="11.0" fill="url(#gRu)"/>
<circle cx="216.9" cy="650.5" r="11.0" fill="url(#gRu)"/>
<circle cx="256.1" cy="650.5" r="11.0" fill="url(#gRu)"/>
<circle cx="295.3" cy="650.5" r="11.0" fill="url(#gRu)"/>
<circle cx="122.0" cy="659.5" r="10.9" fill="url(#gRu)"/>
<circle cx="162.0" cy="659.5" r="10.9" fill="url(#gRu)"/>
<circle cx="202.0" cy="659.5" r="10.9" fill="url(#gRu)"/>
<circle cx="242.0" cy="659.5" r="10.9" fill="url(#gRu)"/>
<circle cx="282.0" cy="659.5" r="10.9" fill="url(#gRu)"/>
<circle cx="142.0" cy="658.5" r="11.5" fill="url(#gRu)"/>
<circle cx="182.0" cy="658.5" r="11.5" fill="url(#gRu)"/>
<circle cx="222.0" cy="658.5" r="11.5" fill="url(#gRu)"/>
<circle cx="262.0" cy="658.5" r="11.5" fill="url(#gRu)"/>
<circle cx="302.0" cy="658.5" r="11.5" fill="url(#gRu)"/>
<circle cx="132.2" cy="666.6" r="11.4" fill="url(#gRu)"/>
<circle cx="169.8" cy="666.6" r="11.4" fill="url(#gRu)"/>
<circle cx="207.4" cy="666.6" r="11.4" fill="url(#gRu)"/>
<circle cx="245.0" cy="666.6" r="11.4" fill="url(#gRu)"/>
<circle cx="282.6" cy="666.6" r="11.4" fill="url(#gRu)"/>
<circle cx="151.0" cy="665.0" r="12.0" fill="url(#gRu)"/>
<circle cx="188.6" cy="665.0" r="12.0" fill="url(#gRu)"/>
<circle cx="226.2" cy="665.0" r="12.0" fill="url(#gRu)"/>
<circle cx="263.8" cy="665.0" r="12.0" fill="url(#gRu)"/>
<circle cx="301.4" cy="665.0" r="12.0" fill="url(#gRu)"/>
<circle cx="118.5" cy="673.6" r="11.0" fill="url(#gRu)"/>
<circle cx="156.7" cy="673.6" r="11.0" fill="url(#gRu)"/>
<circle cx="194.9" cy="673.6" r="11.0" fill="url(#gRu)"/>
<circle cx="233.1" cy="673.6" r="11.0" fill="url(#gRu)"/>
<circle cx="271.3" cy="673.6" r="11.0" fill="url(#gRu)"/>
<circle cx="309.5" cy="673.6" r="11.0" fill="url(#gRu)"/>
<circle cx="137.6" cy="674.0" r="13.0" fill="url(#gRu)"/>
<circle cx="175.8" cy="674.0" r="13.0" fill="url(#gRu)"/>
<circle cx="214.0" cy="674.0" r="13.0" fill="url(#gRu)"/>
<circle cx="252.2" cy="674.0" r="13.0" fill="url(#gRu)"/>
<circle cx="290.4" cy="674.0" r="13.0" fill="url(#gRu)"/>
<circle cx="328.6" cy="674.0" r="13.0" fill="url(#gRu)"/>
<circle cx="139.1" cy="672.0" r="1.5" fill="#f2ffff"/>
<circle cx="120.0" cy="672.0" r="1.4" fill="#f2ffff"/>
<circle cx="177.3" cy="672.0" r="1.5" fill="#f2ffff"/>
<circle cx="158.2" cy="672.0" r="1.4" fill="#f2ffff"/>
<circle cx="215.5" cy="672.0" r="1.5" fill="#f2ffff"/>
<circle cx="196.4" cy="672.0" r="1.4" fill="#f2ffff"/>
<circle cx="253.7" cy="672.0" r="1.5" fill="#f2ffff"/>
<circle cx="234.6" cy="672.0" r="1.4" fill="#f2ffff"/>
<circle cx="291.9" cy="672.0" r="1.5" fill="#f2ffff"/>
<circle cx="272.8" cy="672.0" r="1.4" fill="#f2ffff"/>
<circle cx="330.1" cy="672.0" r="1.5" fill="#f2ffff"/>
<circle cx="311.0" cy="672.0" r="1.4" fill="#f2ffff"/>
</g>
<path d="M168.6 622.0L175.0 638.5" stroke="#8c8c8c" stroke-width="3.6" stroke-linecap="round" fill="none"/>
<path d="M174.2 636.5L175.2 639.0" stroke="#3fb8c4" stroke-width="3.6" stroke-linecap="round" fill="none"/>
<path d="M151.0 630.0L146.0 640.5" stroke="#ee1010" stroke-width="3.8" stroke-linecap="round" fill="none"/>
<path d="M152.0 631.0L153.6 642.0" stroke="#ee1010" stroke-width="3.8" stroke-linecap="round" fill="none"/>
<path d="M153.0 628.8L165.0 625.0" stroke="#ee1010" stroke-width="3" stroke-linecap="round" fill="none"/>
<path d="M166.0 611.0L161.0 600.0" stroke="#cfcfcf" stroke-width="2.6" stroke-linecap="round" fill="none"/>
<path d="M168.0 611.0L169.0 601.0" stroke="#cfcfcf" stroke-width="2.6" stroke-linecap="round" fill="none"/>
<path d="M170.0 612.0L190.0 606.0" stroke="#cfcfcf" stroke-width="2.6" stroke-linecap="round" fill="none"/>
<circle cx="169.0" cy="599.5" r="5.2" fill="url(#gH)"/>
<circle cx="160.0" cy="598.0" r="5.4" fill="url(#gH)"/>
<circle cx="168.6" cy="621.4" r="5.2" fill="url(#gC)"/>
<circle cx="182.0" cy="620.5" r="5.4" fill="url(#gH)"/>
<path d="M167.0 613.0L181.0 610.0" stroke="#8c8c8c" stroke-width="3" stroke-linecap="round" fill="none"/>
<circle cx="167.2" cy="613.3" r="5.8" fill="url(#gC)"/>
<circle cx="181.3" cy="609.7" r="5.4" fill="url(#gH)"/>
<circle cx="192.0" cy="605.2" r="5.5" fill="url(#gH)"/>
<circle cx="160.0" cy="620.5" r="5.5" fill="url(#gH)"/>
<circle cx="151.0" cy="629.0" r="5.4" fill="url(#gO)"/>
<circle cx="211.0" cy="617.0" r="5.0" fill="url(#gO)"/>
<circle cx="208.6" cy="609.7" r="5.5" fill="url(#gH)"/>
<circle cx="208.6" cy="627.7" r="5.5" fill="url(#gH)"/>
<path d="M214.0 616.0L221.0 612.0" stroke="#ee1010" stroke-width="3" stroke-linecap="round" fill="none"/>
<circle cx="221.8" cy="611.5" r="5.0" fill="url(#gO)"/>
<circle cx="230.3" cy="620.0" r="5.5" fill="url(#gH)"/>
<path d="M228.0 607.0L236.0 603.0" stroke="#e8e8e8" stroke-width="3" stroke-linecap="round" fill="none"/>
<circle cx="237.0" cy="601.6" r="5.4" fill="url(#gO)"/>
<circle cx="227.7" cy="607.0" r="5.5" fill="url(#gH)"/>
<path d="M240.0 603.5L248.0 607.0" stroke="#e8e8e8" stroke-width="3" stroke-linecap="round" fill="none"/>
<circle cx="250.0" cy="608.0" r="5.5" fill="url(#gH)"/>
<circle cx="275.8" cy="621.4" r="4.5" fill="url(#gH)"/>
<circle cx="269.5" cy="615.0" r="5.5" fill="url(#gO)"/>
<circle cx="270.0" cy="626.8" r="5.5" fill="url(#gH)"/>
<rect x="381.8" y="441.2" width="164.0" height="82.4" fill="#fdfdfd"/>
<g clip-path="url(#c55)">
<rect x="381.8" y="490.6" width="164.0" height="33.0" fill="#15626c"/>
<circle cx="388.4" cy="495.9" r="9.9" fill="url(#gRu)"/>
<circle cx="426.4" cy="495.9" r="9.9" fill="url(#gRu)"/>
<circle cx="464.4" cy="495.9" r="9.9" fill="url(#gRu)"/>
<circle cx="502.4" cy="495.9" r="9.9" fill="url(#gRu)"/>
<circle cx="540.4" cy="495.9" r="9.9" fill="url(#gRu)"/>
<circle cx="407.4" cy="494.1" r="10.5" fill="url(#gRu)"/>
<circle cx="445.4" cy="494.1" r="10.5" fill="url(#gRu)"/>
<circle cx="483.4" cy="494.1" r="10.5" fill="url(#gRu)"/>
<circle cx="521.4" cy="494.1" r="10.5" fill="url(#gRu)"/>
<circle cx="428.3" cy="500.0" r="10.4" fill="url(#gRu)"/>
<circle cx="504.3" cy="500.0" r="10.4" fill="url(#gRu)"/>
<circle cx="390.3" cy="500.0" r="11.0" fill="url(#gRu)"/>
<circle cx="466.3" cy="500.0" r="11.0" fill="url(#gRu)"/>
<circle cx="542.3" cy="500.0" r="11.0" fill="url(#gRu)"/>
<circle cx="445.4" cy="506.9" r="10.9" fill="url(#gRu)"/>
<circle cx="521.4" cy="506.9" r="10.9" fill="url(#gRu)"/>
<circle cx="407.4" cy="506.9" r="11.5" fill="url(#gRu)"/>
<circle cx="483.4" cy="506.9" r="11.5" fill="url(#gRu)"/>
<circle cx="372.9" cy="513.6" r="10.6" fill="url(#gRu)"/>
<circle cx="411.1" cy="513.6" r="10.6" fill="url(#gRu)"/>
<circle cx="449.2" cy="513.6" r="10.6" fill="url(#gRu)"/>
<circle cx="487.3" cy="513.6" r="10.6" fill="url(#gRu)"/>
<circle cx="525.4" cy="513.6" r="10.6" fill="url(#gRu)"/>
<circle cx="563.5" cy="513.6" r="10.6" fill="url(#gRu)"/>
<circle cx="392.0" cy="513.4" r="12.6" fill="url(#gRu)"/>
<circle cx="430.1" cy="513.4" r="12.6" fill="url(#gRu)"/>
<circle cx="468.2" cy="513.4" r="12.6" fill="url(#gRu)"/>
<circle cx="506.3" cy="513.4" r="12.6" fill="url(#gRu)"/>
<circle cx="544.4" cy="513.4" r="12.6" fill="url(#gRu)"/>
<circle cx="582.5" cy="513.4" r="12.6" fill="url(#gRu)"/>
<circle cx="393.3" cy="512.8" r="1.6" fill="#f2ffff"/>
<circle cx="374.2" cy="513.4" r="1.4" fill="#f2ffff"/>
<circle cx="385.2" cy="521.4" r="1.5" fill="#f2ffff"/>
<circle cx="366.1" cy="522.0" r="1.4" fill="#f2ffff"/>
<circle cx="431.4" cy="512.8" r="1.6" fill="#f2ffff"/>
<circle cx="412.4" cy="513.4" r="1.4" fill="#f2ffff"/>
<circle cx="423.3" cy="521.4" r="1.5" fill="#f2ffff"/>
<circle cx="404.2" cy="522.0" r="1.4" fill="#f2ffff"/>
<circle cx="469.5" cy="512.8" r="1.6" fill="#f2ffff"/>
<circle cx="450.5" cy="513.4" r="1.4" fill="#f2ffff"/>
<circle cx="461.4" cy="521.4" r="1.5" fill="#f2ffff"/>
<circle cx="442.4" cy="522.0" r="1.4" fill="#f2ffff"/>
<circle cx="507.6" cy="512.8" r="1.6" fill="#f2ffff"/>
<circle cx="488.6" cy="513.4" r="1.4" fill="#f2ffff"/>
<circle cx="499.5" cy="521.4" r="1.5" fill="#f2ffff"/>
<circle cx="480.5" cy="522.0" r="1.4" fill="#f2ffff"/>
<circle cx="545.7" cy="512.8" r="1.6" fill="#f2ffff"/>
<circle cx="526.7" cy="513.4" r="1.4" fill="#f2ffff"/>
<circle cx="537.6" cy="521.4" r="1.5" fill="#f2ffff"/>
<circle cx="518.6" cy="522.0" r="1.4" fill="#f2ffff"/>
<circle cx="583.8" cy="512.8" r="1.6" fill="#f2ffff"/>
<circle cx="564.8" cy="513.4" r="1.4" fill="#f2ffff"/>
<circle cx="575.7" cy="521.4" r="1.5" fill="#f2ffff"/>
<circle cx="556.7" cy="522.0" r="1.4" fill="#f2ffff"/>
</g>
<path d="M445.0 486.0L445.6 494.5" stroke="#e8e8e8" stroke-width="3.6" stroke-linecap="round" fill="none"/>
<path d="M414.0 485.5L412.0 494.5" stroke="#ee1010" stroke-width="3.8" stroke-linecap="round" fill="none"/>
<path d="M415.5 487.0L421.5 497.5" stroke="#ee1010" stroke-width="3.8" stroke-linecap="round" fill="none"/>
<path d="M486.8 480.0L486.4 492.7" stroke="#ee1010" stroke-width="4.4" stroke-linecap="round" fill="none"/>
<path d="M423.5 473.5L416.5 481.0" stroke="#8c8c8c" stroke-width="3" stroke-linecap="round" fill="none"/>
<path d="M418.0 457.0L406.0 453.5" stroke="#cfcfcf" stroke-width="2.6" stroke-linecap="round" fill="none"/>
<path d="M419.0 456.0L427.0 449.0" stroke="#cfcfcf" stroke-width="2.6" stroke-linecap="round" fill="none"/>
<path d="M434.0 458.0L441.5 449.5" stroke="#cfcfcf" stroke-width="2.6" stroke-linecap="round" fill="none"/>
<path d="M434.0 460.0L439.5 468.0" stroke="#cfcfcf" stroke-width="2.6" stroke-linecap="round" fill="none"/>
<circle cx="428.0" cy="447.3" r="5.7" fill="url(#gH)"/>
<circle cx="442.6" cy="448.0" r="5.7" fill="url(#gH)"/>
<circle cx="404.7" cy="453.0" r="5.7" fill="url(#gH)"/>
<path d="M418.0 457.5L425.5 470.0" stroke="#8c8c8c" stroke-width="3.4" stroke-linecap="round" fill="none"/>
<path d="M433.6 459.3L425.5 470.0" stroke="#8c8c8c" stroke-width="3.4" stroke-linecap="round" fill="none"/>
<circle cx="418.2" cy="457.5" r="5.6" fill="url(#gC)"/>
<circle cx="433.6" cy="459.3" r="5.7" fill="url(#gC)"/>
<circle cx="425.5" cy="471.0" r="5.4" fill="url(#gC)"/>
<circle cx="417.7" cy="467.8" r="5.7" fill="url(#gH)"/>
<circle cx="440.2" cy="469.2" r="5.7" fill="url(#gH)"/>
<circle cx="414.3" cy="484.0" r="5.4" fill="url(#gO)"/>
<circle cx="444.4" cy="483.6" r="5.5" fill="url(#gH)"/>
<circle cx="488.2" cy="479.0" r="4.5" fill="url(#gO)"/>
<circle cx="474.5" cy="468.3" r="5.5" fill="url(#gO)"/>
<circle cx="467.3" cy="478.8" r="5.7" fill="url(#gH)"/>
<circle cx="492.5" cy="471.0" r="5.7" fill="url(#gH)"/>
<circle cx="481.7" cy="476.4" r="5.8" fill="url(#gH)"/>
<path d="M503.0 461.0L511.0 464.0" stroke="#e8e8e8" stroke-width="3" stroke-linecap="round" fill="none"/>
<circle cx="500.2" cy="459.9" r="5.4" fill="url(#gO)"/>
<circle cx="491.2" cy="462.4" r="5.7" fill="url(#gH)"/>
<circle cx="512.8" cy="464.2" r="5.7" fill="url(#gH)"/>
<circle cx="542.6" cy="479.7" r="5.0" fill="url(#gH)"/>
<circle cx="535.4" cy="471.6" r="5.5" fill="url(#gO)"/>
<circle cx="535.4" cy="481.0" r="5.7" fill="url(#gH)"/>
<rect x="409.9" y="578.0" width="169.8" height="87.3" fill="#fdfdfd"/>
<g clip-path="url(#c56)">
<rect x="409.9" y="642.0" width="169.8" height="23.3" fill="#15626c"/>
<circle cx="409.6" cy="648.0" r="10.9" fill="url(#gRu)"/>
<circle cx="449.4" cy="648.0" r="10.9" fill="url(#gRu)"/>
<circle cx="489.2" cy="648.0" r="10.9" fill="url(#gRu)"/>
<circle cx="529.0" cy="648.0" r="10.9" fill="url(#gRu)"/>
<circle cx="568.8" cy="648.0" r="10.9" fill="url(#gRu)"/>
<circle cx="429.5" cy="646.5" r="11.5" fill="url(#gRu)"/>
<circle cx="469.3" cy="646.5" r="11.5" fill="url(#gRu)"/>
<circle cx="509.1" cy="646.5" r="11.5" fill="url(#gRu)"/>
<circle cx="548.9" cy="646.5" r="11.5" fill="url(#gRu)"/>
<circle cx="588.7" cy="646.5" r="11.5" fill="url(#gRu)"/>
<circle cx="419.6" cy="656.7" r="11.4" fill="url(#gRu)"/>
<circle cx="459.4" cy="656.7" r="11.4" fill="url(#gRu)"/>
<circle cx="499.2" cy="656.7" r="11.4" fill="url(#gRu)"/>
<circle cx="539.0" cy="656.7" r="11.4" fill="url(#gRu)"/>
<circle cx="578.8" cy="656.7" r="11.4" fill="url(#gRu)"/>
<circle cx="399.7" cy="655.5" r="12.0" fill="url(#gRu)"/>
<circle cx="439.5" cy="655.5" r="12.0" fill="url(#gRu)"/>
<circle cx="479.3" cy="655.5" r="12.0" fill="url(#gRu)"/>
<circle cx="519.1" cy="655.5" r="12.0" fill="url(#gRu)"/>
<circle cx="558.9" cy="655.5" r="12.0" fill="url(#gRu)"/>
<circle cx="409.6" cy="664.7" r="11.9" fill="url(#gRu)"/>
<circle cx="449.4" cy="664.7" r="11.9" fill="url(#gRu)"/>
<circle cx="489.2" cy="664.7" r="11.9" fill="url(#gRu)"/>
<circle cx="529.0" cy="664.7" r="11.9" fill="url(#gRu)"/>
<circle cx="568.8" cy="664.7" r="11.9" fill="url(#gRu)"/>
<circle cx="429.5" cy="663.5" r="12.5" fill="url(#gRu)"/>
<circle cx="469.3" cy="663.5" r="12.5" fill="url(#gRu)"/>
<circle cx="509.1" cy="663.5" r="12.5" fill="url(#gRu)"/>
<circle cx="548.9" cy="663.5" r="12.5" fill="url(#gRu)"/>
<circle cx="588.7" cy="663.5" r="12.5" fill="url(#gRu)"/>
<circle cx="419.6" cy="672.7" r="12.4" fill="url(#gRu)"/>
<circle cx="459.4" cy="672.7" r="12.4" fill="url(#gRu)"/>
<circle cx="499.2" cy="672.7" r="12.4" fill="url(#gRu)"/>
<circle cx="539.0" cy="672.7" r="12.4" fill="url(#gRu)"/>
<circle cx="578.8" cy="672.7" r="12.4" fill="url(#gRu)"/>
<circle cx="399.7" cy="671.7" r="13.0" fill="url(#gRu)"/>
<circle cx="439.5" cy="671.7" r="13.0" fill="url(#gRu)"/>
<circle cx="479.3" cy="671.7" r="13.0" fill="url(#gRu)"/>
<circle cx="519.1" cy="671.7" r="13.0" fill="url(#gRu)"/>
<circle cx="558.9" cy="671.7" r="13.0" fill="url(#gRu)"/>
</g>
<path d="M537.3 643.0L528.4 653.0" stroke="#ee1010" stroke-width="3.6" stroke-linecap="round" fill="none"/>
<path d="M537.3 643.0L536.9 655.0" stroke="#ee1010" stroke-width="3.6" stroke-linecap="round" fill="none"/>
<path d="M537.3 643.0L546.4 652.6" stroke="#ee1010" stroke-width="3.6" stroke-linecap="round" fill="none"/>
<path d="M540.7 625.0L539.4 632.0" stroke="#8c8c8c" stroke-width="3.6" stroke-linecap="round" fill="none"/>
<path d="M539.4 632.0L538.2 638.0" stroke="#ee1010" stroke-width="3.6" stroke-linecap="round" fill="none"/>
<circle cx="537.3" cy="642.5" r="5.1" fill="url(#gO)"/>
<circle cx="432.3" cy="622.5" r="4.5" fill="url(#gH)"/>
<circle cx="438.0" cy="614.0" r="6.0" fill="url(#gO)"/>
<circle cx="437.0" cy="623.5" r="5.6" fill="url(#gH)"/>
<circle cx="481.8" cy="603.5" r="4.1" fill="url(#gH)"/>
<path d="M462.0 606.0L470.0 603.0" stroke="#e8e8e8" stroke-width="3" stroke-linecap="round" fill="none"/>
<circle cx="459.3" cy="606.4" r="5.6" fill="url(#gH)"/>
<circle cx="473.2" cy="601.6" r="5.6" fill="url(#gO)"/>
<circle cx="481.4" cy="608.9" r="5.6" fill="url(#gH)"/>
<circle cx="482.2" cy="617.8" r="4.5" fill="url(#gH)"/>
<circle cx="491.9" cy="610.2" r="5.6" fill="url(#gO)"/>
<circle cx="501.2" cy="620.6" r="5.3" fill="url(#gH)"/>
<circle cx="490.9" cy="619.7" r="5.7" fill="url(#gO)"/>
<circle cx="481.8" cy="627.3" r="5.7" fill="url(#gH)"/>
<circle cx="499.5" cy="629.2" r="5.7" fill="url(#gH)"/>
<path d="M514.0 614.0L524.0 611.5" stroke="#e8e8e8" stroke-width="3" stroke-linecap="round" fill="none"/>
<path d="M526.0 611.0L540.0 622.0" stroke="#8c8c8c" stroke-width="3.2" stroke-linecap="round" fill="none"/>
<path d="M543.6 612.0L541.0 622.0" stroke="#8c8c8c" stroke-width="3.2" stroke-linecap="round" fill="none"/>
<path d="M528.9 600.0L526.5 609.0" stroke="#e8e8e8" stroke-width="2.8" stroke-linecap="round" fill="none"/>
<path d="M548.3 600.0L545.0 610.0" stroke="#e8e8e8" stroke-width="2.8" stroke-linecap="round" fill="none"/>
<circle cx="511.8" cy="614.6" r="6.0" fill="url(#gH)"/>
<circle cx="528.9" cy="598.2" r="6.0" fill="url(#gH)"/>
<circle cx="548.3" cy="597.8" r="6.0" fill="url(#gH)"/>
<circle cx="525.9" cy="611.1" r="5.6" fill="url(#gC)"/>
<circle cx="543.6" cy="612.1" r="5.7" fill="url(#gC)"/>
<circle cx="540.7" cy="622.5" r="5.3" fill="url(#gC)"/>
<circle cx="524.0" cy="621.2" r="6.0" fill="url(#gH)"/>
<circle cx="555.6" cy="620.6" r="6.0" fill="url(#gH)"/>
<rect x="259.1" y="727.6" width="167.8" height="70.0" fill="#fdfdfd"/>
<g clip-path="url(#c57)">
<rect x="259.1" y="776.0" width="167.8" height="21.6" fill="#15626c"/>
<circle cx="256.4" cy="782.0" r="10.9" fill="url(#gRu)"/>
<circle cx="296.8" cy="782.0" r="10.9" fill="url(#gRu)"/>
<circle cx="337.2" cy="782.0" r="10.9" fill="url(#gRu)"/>
<circle cx="377.6" cy="782.0" r="10.9" fill="url(#gRu)"/>
<circle cx="418.0" cy="782.0" r="10.9" fill="url(#gRu)"/>
<circle cx="276.6" cy="780.5" r="11.5" fill="url(#gRu)"/>
<circle cx="317.0" cy="780.5" r="11.5" fill="url(#gRu)"/>
<circle cx="357.4" cy="780.5" r="11.5" fill="url(#gRu)"/>
<circle cx="397.8" cy="780.5" r="11.5" fill="url(#gRu)"/>
<circle cx="438.2" cy="780.5" r="11.5" fill="url(#gRu)"/>
<circle cx="266.5" cy="790.2" r="11.4" fill="url(#gRu)"/>
<circle cx="306.9" cy="790.2" r="11.4" fill="url(#gRu)"/>
<circle cx="347.3" cy="790.2" r="11.4" fill="url(#gRu)"/>
<circle cx="387.7" cy="790.2" r="11.4" fill="url(#gRu)"/>
<circle cx="428.1" cy="790.2" r="11.4" fill="url(#gRu)"/>
<circle cx="286.7" cy="789.0" r="12.0" fill="url(#gRu)"/>
<circle cx="327.1" cy="789.0" r="12.0" fill="url(#gRu)"/>
<circle cx="367.5" cy="789.0" r="12.0" fill="url(#gRu)"/>
<circle cx="407.9" cy="789.0" r="12.0" fill="url(#gRu)"/>
<circle cx="256.4" cy="799.3" r="11.9" fill="url(#gRu)"/>
<circle cx="296.8" cy="799.3" r="11.9" fill="url(#gRu)"/>
<circle cx="337.2" cy="799.3" r="11.9" fill="url(#gRu)"/>
<circle cx="377.6" cy="799.3" r="11.9" fill="url(#gRu)"/>
<circle cx="418.0" cy="799.3" r="11.9" fill="url(#gRu)"/>
<circle cx="276.6" cy="798.1" r="12.5" fill="url(#gRu)"/>
<circle cx="317.0" cy="798.1" r="12.5" fill="url(#gRu)"/>
<circle cx="357.4" cy="798.1" r="12.5" fill="url(#gRu)"/>
<circle cx="397.8" cy="798.1" r="12.5" fill="url(#gRu)"/>
<circle cx="438.2" cy="798.1" r="12.5" fill="url(#gRu)"/>
<circle cx="266.5" cy="807.2" r="12.4" fill="url(#gRu)"/>
<circle cx="306.9" cy="807.2" r="12.4" fill="url(#gRu)"/>
<circle cx="347.3" cy="807.2" r="12.4" fill="url(#gRu)"/>
<circle cx="387.7" cy="807.2" r="12.4" fill="url(#gRu)"/>
<circle cx="428.1" cy="807.2" r="12.4" fill="url(#gRu)"/>
<circle cx="246.3" cy="806.2" r="13.0" fill="url(#gRu)"/>
<circle cx="286.7" cy="806.2" r="13.0" fill="url(#gRu)"/>
<circle cx="327.1" cy="806.2" r="13.0" fill="url(#gRu)"/>
<circle cx="367.5" cy="806.2" r="13.0" fill="url(#gRu)"/>
<circle cx="407.9" cy="806.2" r="13.0" fill="url(#gRu)"/>
</g>
<path d="M297.5 781.0L287.0 791.9" stroke="#ee1010" stroke-width="3.6" stroke-linecap="round" fill="none"/>
<path d="M297.5 781.0L297.5 793.4" stroke="#ee1010" stroke-width="3.6" stroke-linecap="round" fill="none"/>
<path d="M297.5 781.0L307.0 791.3" stroke="#ee1010" stroke-width="3.6" stroke-linecap="round" fill="none"/>
<path d="M301.0 763.0L300.0 770.0" stroke="#8c8c8c" stroke-width="3.6" stroke-linecap="round" fill="none"/>
<path d="M300.0 770.0L298.6 777.0" stroke="#ee1010" stroke-width="3.6" stroke-linecap="round" fill="none"/>
<circle cx="297.5" cy="780.6" r="5.2" fill="url(#gO)"/>
<circle cx="310.9" cy="755.2" r="5.0" fill="url(#gH)"/>
<circle cx="291.8" cy="737.5" r="5.9" fill="url(#gH)"/>
<circle cx="305.2" cy="733.7" r="5.9" fill="url(#gH)"/>
<path d="M276.0 752.3L287.0 751.5" stroke="#e8e8e8" stroke-width="3" stroke-linecap="round" fill="none"/>
<path d="M288.0 751.4L301.0 760.0" stroke="#8c8c8c" stroke-width="3.2" stroke-linecap="round" fill="none"/>
<path d="M301.0 749.5L301.4 760.0" stroke="#8c8c8c" stroke-width="3.2" stroke-linecap="round" fill="none"/>
<circle cx="273.8" cy="752.3" r="6.0" fill="url(#gH)"/>
<circle cx="288.0" cy="751.4" r="5.6" fill="url(#gC)"/>
<circle cx="301.0" cy="749.5" r="5.7" fill="url(#gC)"/>
<circle cx="301.4" cy="760.3" r="5.4" fill="url(#gC)"/>
<circle cx="289.0" cy="760.9" r="6.0" fill="url(#gH)"/>
<circle cx="316.9" cy="759.6" r="6.0" fill="url(#gH)"/>
<path d="M357.5 782.0L357.5 788.8" stroke="#ee1010" stroke-width="4" stroke-linecap="round" fill="none"/>
<circle cx="348.9" cy="767.5" r="5.6" fill="url(#gO)"/>
<circle cx="337.1" cy="772.9" r="5.9" fill="url(#gH)"/>
<circle cx="358.4" cy="771.4" r="5.0" fill="url(#gO)"/>
<circle cx="355.0" cy="779.9" r="5.9" fill="url(#gH)"/>
<circle cx="365.0" cy="767.5" r="5.6" fill="url(#gH)"/>
<path d="M376.0 758.5L385.0 762.0" stroke="#e8e8e8" stroke-width="3" stroke-linecap="round" fill="none"/>
<circle cx="373.6" cy="757.7" r="5.6" fill="url(#gO)"/>
<circle cx="365.0" cy="760.9" r="5.9" fill="url(#gH)"/>
<circle cx="386.9" cy="762.8" r="5.9" fill="url(#gH)"/>
<circle cx="417.4" cy="779.0" r="5.0" fill="url(#gH)"/>
<circle cx="410.7" cy="769.8" r="5.6" fill="url(#gO)"/>
<circle cx="412.0" cy="778.6" r="5.9" fill="url(#gH)"/>
<rect x="459.1" y="749.5" width="169.7" height="91.7" fill="#fdfdfd"/>
<g clip-path="url(#c58)">
<rect x="459.1" y="802.2" width="169.7" height="39.0" fill="#15626c"/>
<circle cx="469.0" cy="809.2" r="11.4" fill="url(#gRu)"/>
<circle cx="509.0" cy="809.2" r="11.4" fill="url(#gRu)"/>
<circle cx="549.0" cy="809.2" r="11.4" fill="url(#gRu)"/>
<circle cx="589.0" cy="809.2" r="11.4" fill="url(#gRu)"/>
<circle cx="629.0" cy="809.2" r="11.4" fill="url(#gRu)"/>
<circle cx="449.0" cy="807.2" r="12.0" fill="url(#gRu)"/>
<circle cx="489.0" cy="807.2" r="12.0" fill="url(#gRu)"/>
<circle cx="529.0" cy="807.2" r="12.0" fill="url(#gRu)"/>
<circle cx="569.0" cy="807.2" r="12.0" fill="url(#gRu)"/>
<circle cx="609.0" cy="807.2" r="12.0" fill="url(#gRu)"/>
<circle cx="508.5" cy="818.1" r="11.9" fill="url(#gRu)"/>
<circle cx="587.5" cy="818.1" r="11.9" fill="url(#gRu)"/>
<circle cx="469.0" cy="818.1" r="12.5" fill="url(#gRu)"/>
<circle cx="548.0" cy="818.1" r="12.5" fill="url(#gRu)"/>
<circle cx="627.0" cy="818.1" r="12.5" fill="url(#gRu)"/>
<circle cx="526.5" cy="827.5" r="11.9" fill="url(#gRu)"/>
<circle cx="606.5" cy="827.5" r="11.9" fill="url(#gRu)"/>
<circle cx="486.5" cy="827.5" r="12.5" fill="url(#gRu)"/>
<circle cx="566.5" cy="827.5" r="12.5" fill="url(#gRu)"/>
<circle cx="447.0" cy="835.2" r="11.5" fill="url(#gRu)"/>
<circle cx="487.0" cy="835.2" r="11.5" fill="url(#gRu)"/>
<circle cx="527.0" cy="835.2" r="11.5" fill="url(#gRu)"/>
<circle cx="567.0" cy="835.2" r="11.5" fill="url(#gRu)"/>
<circle cx="607.0" cy="835.2" r="11.5" fill="url(#gRu)"/>
<circle cx="647.0" cy="835.2" r="11.5" fill="url(#gRu)"/>
<circle cx="467.0" cy="835.0" r="13.7" fill="url(#gRu)"/>
<circle cx="507.0" cy="835.0" r="13.7" fill="url(#gRu)"/>
<circle cx="547.0" cy="835.0" r="13.7" fill="url(#gRu)"/>
<circle cx="587.0" cy="835.0" r="13.7" fill="url(#gRu)"/>
<circle cx="627.0" cy="835.0" r="13.7" fill="url(#gRu)"/>
<circle cx="667.0" cy="835.0" r="13.7" fill="url(#gRu)"/>
<circle cx="468.0" cy="835.0" r="1.6" fill="#f2ffff"/>
<circle cx="448.0" cy="835.6" r="1.4" fill="#f2ffff"/>
<circle cx="508.0" cy="835.0" r="1.6" fill="#f2ffff"/>
<circle cx="488.0" cy="835.6" r="1.4" fill="#f2ffff"/>
<circle cx="548.0" cy="835.0" r="1.6" fill="#f2ffff"/>
<circle cx="528.0" cy="835.6" r="1.4" fill="#f2ffff"/>
<circle cx="588.0" cy="835.0" r="1.6" fill="#f2ffff"/>
<circle cx="568.0" cy="835.6" r="1.4" fill="#f2ffff"/>
<circle cx="628.0" cy="835.0" r="1.6" fill="#f2ffff"/>
<circle cx="608.0" cy="835.6" r="1.4" fill="#f2ffff"/>
<circle cx="668.0" cy="835.0" r="1.6" fill="#f2ffff"/>
<circle cx="648.0" cy="835.6" r="1.4" fill="#f2ffff"/>
</g>
<path d="M546.6 795.0L546.6 802.0" stroke="#ee1010" stroke-width="4.2" stroke-linecap="round" fill="none"/>
<path d="M565.0 799.0L565.6 811.5" stroke="#ee1010" stroke-width="4.4" stroke-linecap="round" fill="none"/>
<circle cx="495.6" cy="785.3" r="5.9" fill="url(#gH)"/>
<circle cx="504.8" cy="781.5" r="5.6" fill="url(#gO)"/>
<circle cx="529.9" cy="782.2" r="5.9" fill="url(#gH)"/>
<circle cx="543.2" cy="783.7" r="5.2" fill="url(#gO)"/>
<circle cx="531.8" cy="791.4" r="5.9" fill="url(#gH)"/>
<circle cx="559.4" cy="788.5" r="5.6" fill="url(#gH)"/>
<circle cx="548.9" cy="785.6" r="5.6" fill="url(#gH)"/>
<circle cx="547.0" cy="791.0" r="5.6" fill="url(#gO)"/>
<circle cx="539.4" cy="768.5" r="5.9" fill="url(#gH)"/>
<circle cx="552.7" cy="768.9" r="5.2" fill="url(#gO)"/>
<circle cx="553.7" cy="776.5" r="5.9" fill="url(#gH)"/>
<path d="M563.7 768.5L577.0 782.2" stroke="#8c8c8c" stroke-width="3.4" stroke-linecap="round" fill="none"/>
<path d="M577.0 782.2L591.7 771.4" stroke="#8c8c8c" stroke-width="3.4" stroke-linecap="round" fill="none"/>
<path d="M577.0 782.2L566.0 793.5" stroke="#8c8c8c" stroke-width="3.4" stroke-linecap="round" fill="none"/>
<path d="M594.0 770.0L601.0 763.5" stroke="#e8e8e8" stroke-width="2.8" stroke-linecap="round" fill="none"/>
<path d="M592.5 773.0L599.0 781.0" stroke="#e8e8e8" stroke-width="2.8" stroke-linecap="round" fill="none"/>
<circle cx="555.6" cy="758.6" r="5.9" fill="url(#gH)"/>
<circle cx="572.7" cy="759.0" r="5.9" fill="url(#gH)"/>
<circle cx="584.1" cy="762.4" r="5.9" fill="url(#gH)"/>
<circle cx="602.1" cy="761.9" r="5.9" fill="url(#gH)"/>
<circle cx="563.7" cy="768.5" r="5.6" fill="url(#gC)"/>
<circle cx="591.7" cy="771.4" r="5.6" fill="url(#gC)"/>
<circle cx="577.0" cy="782.2" r="5.6" fill="url(#gC)"/>
<circle cx="600.2" cy="782.8" r="5.9" fill="url(#gH)"/>
<circle cx="585.0" cy="791.7" r="5.9" fill="url(#gH)"/>
<circle cx="564.5" cy="795.2" r="5.6" fill="url(#gO)"/>
<rect x="614.1" y="495.7" width="164.5" height="95.1" fill="#fdfdfd"/>
<g clip-path="url(#c59)">
<rect x="614.1" y="555.0" width="164.5" height="35.8" fill="#15626c"/>
<circle cx="618.3" cy="561.0" r="10.4" fill="url(#gRu)"/>
<circle cx="656.3" cy="561.0" r="10.4" fill="url(#gRu)"/>
<circle cx="694.3" cy="561.0" r="10.4" fill="url(#gRu)"/>
<circle cx="732.3" cy="561.0" r="10.4" fill="url(#gRu)"/>
<circle cx="770.3" cy="561.0" r="10.4" fill="url(#gRu)"/>
<circle cx="637.3" cy="559.0" r="11.0" fill="url(#gRu)"/>
<circle cx="675.3" cy="559.0" r="11.0" fill="url(#gRu)"/>
<circle cx="713.3" cy="559.0" r="11.0" fill="url(#gRu)"/>
<circle cx="751.3" cy="559.0" r="11.0" fill="url(#gRu)"/>
<circle cx="789.3" cy="559.0" r="11.0" fill="url(#gRu)"/>
<circle cx="657.3" cy="567.1" r="10.9" fill="url(#gRu)"/>
<circle cx="733.3" cy="567.1" r="10.9" fill="url(#gRu)"/>
<circle cx="619.3" cy="567.1" r="11.5" fill="url(#gRu)"/>
<circle cx="695.3" cy="567.1" r="11.5" fill="url(#gRu)"/>
<circle cx="771.3" cy="567.1" r="11.5" fill="url(#gRu)"/>
<circle cx="675.3" cy="575.2" r="11.4" fill="url(#gRu)"/>
<circle cx="751.3" cy="575.2" r="11.4" fill="url(#gRu)"/>
<circle cx="637.3" cy="575.2" r="12.0" fill="url(#gRu)"/>
<circle cx="713.3" cy="575.2" r="12.0" fill="url(#gRu)"/>
<circle cx="789.3" cy="575.2" r="12.0" fill="url(#gRu)"/>
<circle cx="601.9" cy="581.6" r="11.0" fill="url(#gRu)"/>
<circle cx="640.1" cy="581.6" r="11.0" fill="url(#gRu)"/>
<circle cx="678.4" cy="581.6" r="11.0" fill="url(#gRu)"/>
<circle cx="716.7" cy="581.6" r="11.0" fill="url(#gRu)"/>
<circle cx="755.0" cy="581.6" r="11.0" fill="url(#gRu)"/>
<circle cx="793.3" cy="581.6" r="11.0" fill="url(#gRu)"/>
<circle cx="621.0" cy="581.3" r="13.0" fill="url(#gRu)"/>
<circle cx="659.3" cy="581.3" r="13.0" fill="url(#gRu)"/>
<circle cx="697.6" cy="581.3" r="13.0" fill="url(#gRu)"/>
<circle cx="735.9" cy="581.3" r="13.0" fill="url(#gRu)"/>
<circle cx="774.2" cy="581.3" r="13.0" fill="url(#gRu)"/>
<circle cx="812.5" cy="581.3" r="13.0" fill="url(#gRu)"/>
<circle cx="621.6" cy="581.8" r="1.6" fill="#f2ffff"/>
<circle cx="602.5" cy="582.5" r="1.4" fill="#f2ffff"/>
<circle cx="614.0" cy="589.9" r="1.5" fill="#f2ffff"/>
<circle cx="594.9" cy="590.6" r="1.4" fill="#f2ffff"/>
<circle cx="659.9" cy="581.8" r="1.6" fill="#f2ffff"/>
<circle cx="640.8" cy="582.5" r="1.4" fill="#f2ffff"/>
<circle cx="652.3" cy="589.9" r="1.5" fill="#f2ffff"/>
<circle cx="633.1" cy="590.6" r="1.4" fill="#f2ffff"/>
<circle cx="698.2" cy="581.8" r="1.6" fill="#f2ffff"/>
<circle cx="679.0" cy="582.5" r="1.4" fill="#f2ffff"/>
<circle cx="690.6" cy="589.9" r="1.5" fill="#f2ffff"/>
<circle cx="671.4" cy="590.6" r="1.4" fill="#f2ffff"/>
<circle cx="736.5" cy="581.8" r="1.6" fill="#f2ffff"/>
<circle cx="717.3" cy="582.5" r="1.4" fill="#f2ffff"/>
<circle cx="728.9" cy="589.9" r="1.5" fill="#f2ffff"/>
<circle cx="709.7" cy="590.6" r="1.4" fill="#f2ffff"/>
<circle cx="774.8" cy="581.8" r="1.6" fill="#f2ffff"/>
<circle cx="755.6" cy="582.5" r="1.4" fill="#f2ffff"/>
<circle cx="767.2" cy="589.9" r="1.5" fill="#f2ffff"/>
<circle cx="748.0" cy="590.6" r="1.4" fill="#f2ffff"/>
<circle cx="813.1" cy="581.8" r="1.6" fill="#f2ffff"/>
<circle cx="793.9" cy="582.5" r="1.4" fill="#f2ffff"/>
<circle cx="805.5" cy="589.9" r="1.5" fill="#f2ffff"/>
<circle cx="786.3" cy="590.6" r="1.4" fill="#f2ffff"/>
</g>
<path d="M714.4 550.0L714.4 561.5" stroke="#ee1010" stroke-width="4.4" stroke-linecap="round" fill="none"/>
<circle cx="643.0" cy="536.0" r="5.7" fill="url(#gH)"/>
<circle cx="650.6" cy="530.3" r="5.6" fill="url(#gO)"/>
<path d="M676.0 526.0L684.0 524.5" stroke="#e8e8e8" stroke-width="3" stroke-linecap="round" fill="none"/>
<circle cx="673.8" cy="526.5" r="5.9" fill="url(#gH)"/>
<circle cx="700.1" cy="522.0" r="5.0" fill="url(#gO)"/>
<circle cx="686.4" cy="523.9" r="5.6" fill="url(#gO)"/>
<circle cx="692.9" cy="526.1" r="4.5" fill="url(#gH)"/>
<circle cx="704.8" cy="537.5" r="5.6" fill="url(#gH)"/>
<circle cx="692.1" cy="533.4" r="5.6" fill="url(#gO)"/>
<circle cx="703.0" cy="530.9" r="5.9" fill="url(#gH)"/>
<circle cx="683.0" cy="543.6" r="5.9" fill="url(#gH)"/>
<path d="M713.4 522.3L725.8 534.1" stroke="#8c8c8c" stroke-width="3.4" stroke-linecap="round" fill="none"/>
<path d="M725.8 534.1L741.0 523.3" stroke="#8c8c8c" stroke-width="3.4" stroke-linecap="round" fill="none"/>
<path d="M725.8 534.1L716.0 544.5" stroke="#8c8c8c" stroke-width="3.4" stroke-linecap="round" fill="none"/>
<path d="M743.0 522.0L749.0 517.0" stroke="#e8e8e8" stroke-width="2.8" stroke-linecap="round" fill="none"/>
<path d="M742.0 525.0L748.5 532.5" stroke="#e8e8e8" stroke-width="2.8" stroke-linecap="round" fill="none"/>
<circle cx="704.8" cy="512.4" r="5.9" fill="url(#gH)"/>
<circle cx="721.0" cy="513.2" r="5.9" fill="url(#gH)"/>
<circle cx="734.3" cy="514.3" r="5.9" fill="url(#gH)"/>
<circle cx="749.9" cy="515.7" r="5.9" fill="url(#gH)"/>
<circle cx="713.4" cy="522.3" r="5.6" fill="url(#gC)"/>
<circle cx="741.0" cy="523.3" r="5.6" fill="url(#gC)"/>
<circle cx="725.8" cy="534.1" r="5.6" fill="url(#gC)"/>
<circle cx="749.9" cy="533.7" r="5.9" fill="url(#gH)"/>
<circle cx="732.8" cy="544.8" r="5.9" fill="url(#gH)"/>
<circle cx="714.4" cy="546.1" r="5.6" fill="url(#gO)"/>
<rect x="818.9" y="760.0" width="162.8" height="80.5" fill="#fdfdfd"/>
<g clip-path="url(#c60)">
<rect x="818.9" y="803.4" width="162.8" height="37.1" fill="#15626c"/>
<circle cx="819.9" cy="808.9" r="9.9" fill="url(#gRu)"/>
<circle cx="855.1" cy="808.9" r="9.9" fill="url(#gRu)"/>
<circle cx="890.3" cy="808.9" r="9.9" fill="url(#gRu)"/>
<circle cx="925.5" cy="808.9" r="9.9" fill="url(#gRu)"/>
<circle cx="960.7" cy="808.9" r="9.9" fill="url(#gRu)"/>
<circle cx="837.5" cy="806.9" r="10.5" fill="url(#gRu)"/>
<circle cx="872.7" cy="806.9" r="10.5" fill="url(#gRu)"/>
<circle cx="907.9" cy="806.9" r="10.5" fill="url(#gRu)"/>
<circle cx="943.1" cy="806.9" r="10.5" fill="url(#gRu)"/>
<circle cx="978.3" cy="806.9" r="10.5" fill="url(#gRu)"/>
<circle cx="855.8" cy="816.9" r="10.4" fill="url(#gRu)"/>
<circle cx="926.6" cy="816.9" r="10.4" fill="url(#gRu)"/>
<circle cx="820.4" cy="816.9" r="11.0" fill="url(#gRu)"/>
<circle cx="891.2" cy="816.9" r="11.0" fill="url(#gRu)"/>
<circle cx="962.0" cy="816.9" r="11.0" fill="url(#gRu)"/>
<circle cx="872.7" cy="825.9" r="10.9" fill="url(#gRu)"/>
<circle cx="943.1" cy="825.9" r="10.9" fill="url(#gRu)"/>
<circle cx="837.5" cy="825.9" r="11.5" fill="url(#gRu)"/>
<circle cx="907.9" cy="825.9" r="11.5" fill="url(#gRu)"/>
<circle cx="978.3" cy="825.9" r="11.5" fill="url(#gRu)"/>
<circle cx="809.2" cy="833.6" r="10.5" fill="url(#gRu)"/>
<circle cx="844.8" cy="833.6" r="10.5" fill="url(#gRu)"/>
<circle cx="880.4" cy="833.6" r="10.5" fill="url(#gRu)"/>
<circle cx="916.0" cy="833.6" r="10.5" fill="url(#gRu)"/>
<circle cx="951.6" cy="833.6" r="10.5" fill="url(#gRu)"/>
<circle cx="987.2" cy="833.6" r="10.5" fill="url(#gRu)"/>
<circle cx="827.0" cy="834.4" r="11.8" fill="url(#gRu)"/>
<circle cx="862.6" cy="834.4" r="11.8" fill="url(#gRu)"/>
<circle cx="898.2" cy="834.4" r="11.8" fill="url(#gRu)"/>
<circle cx="933.8" cy="834.4" r="11.8" fill="url(#gRu)"/>
<circle cx="969.4" cy="834.4" r="11.8" fill="url(#gRu)"/>
<circle cx="1005.0" cy="834.4" r="11.8" fill="url(#gRu)"/>
<circle cx="827.5" cy="834.4" r="1.5" fill="#f2ffff"/>
<circle cx="809.7" cy="834.0" r="1.4" fill="#f2ffff"/>
<circle cx="863.1" cy="834.4" r="1.5" fill="#f2ffff"/>
<circle cx="845.3" cy="834.0" r="1.4" fill="#f2ffff"/>
<circle cx="898.7" cy="834.4" r="1.5" fill="#f2ffff"/>
<circle cx="880.9" cy="834.0" r="1.4" fill="#f2ffff"/>
<circle cx="934.3" cy="834.4" r="1.5" fill="#f2ffff"/>
<circle cx="916.5" cy="834.0" r="1.4" fill="#f2ffff"/>
<circle cx="969.9" cy="834.4" r="1.5" fill="#f2ffff"/>
<circle cx="952.1" cy="834.0" r="1.4" fill="#f2ffff"/>
<circle cx="1005.5" cy="834.4" r="1.5" fill="#f2ffff"/>
<circle cx="987.7" cy="834.0" r="1.4" fill="#f2ffff"/>
</g>
<path d="M913.2 802.0L913.2 814.6" stroke="#ee1010" stroke-width="4.4" stroke-linecap="round" fill="none"/>
<circle cx="844.8" cy="788.4" r="5.6" fill="url(#gH)"/>
<circle cx="848.0" cy="779.6" r="5.5" fill="url(#gO)"/>
<circle cx="889.8" cy="773.9" r="4.5" fill="url(#gH)"/>
<path d="M870.0 775.0L878.0 772.0" stroke="#e8e8e8" stroke-width="3" stroke-linecap="round" fill="none"/>
<circle cx="868.0" cy="775.0" r="5.6" fill="url(#gH)"/>
<circle cx="880.9" cy="771.2" r="5.5" fill="url(#gO)"/>
<circle cx="884.7" cy="777.7" r="5.3" fill="url(#gH)"/>
<circle cx="886.0" cy="785.9" r="5.5" fill="url(#gO)"/>
<circle cx="881.3" cy="797.9" r="5.6" fill="url(#gH)"/>
<circle cx="900.3" cy="778.3" r="5.5" fill="url(#gO)"/>
<circle cx="896.9" cy="787.8" r="5.6" fill="url(#gH)"/>
<circle cx="908.8" cy="787.8" r="5.6" fill="url(#gH)"/>
<circle cx="926.0" cy="767.4" r="4.9" fill="url(#gH)"/>
<circle cx="918.9" cy="767.8" r="5.3" fill="url(#gH)"/>
<circle cx="948.8" cy="773.5" r="4.9" fill="url(#gH)"/>
<circle cx="942.1" cy="772.0" r="5.3" fill="url(#gH)"/>
<path d="M930.0 778.0L940.0 773.5" stroke="#8c8c8c" stroke-width="3" stroke-linecap="round" fill="none"/>
<circle cx="929.8" cy="778.3" r="5.6" fill="url(#gC)"/>
<circle cx="936.0" cy="787.8" r="4.5" fill="url(#gH)"/>
<circle cx="932.6" cy="788.4" r="5.3" fill="url(#gC)"/>
<circle cx="925.4" cy="787.2" r="5.6" fill="url(#gH)"/>
<path d="M916.0 796.5L923.0 793.2" stroke="#ee1010" stroke-width="3.4" stroke-linecap="round" fill="none"/>
<path d="M923.0 793.2L930.0 790.0" stroke="#8c8c8c" stroke-width="3.4" stroke-linecap="round" fill="none"/>
<circle cx="940.2" cy="800.2" r="5.6" fill="url(#gH)"/>
<circle cx="914.6" cy="797.3" r="5.6" fill="url(#gO)"/>
<circle cx="907.5" cy="800.5" r="5.6" fill="url(#gH)"/>
<path d="M168.4 485.2L216.0 540M266.0 540L312.6 500.4M363.0 500.4L410.20000000000005 691.6M460.4 691.6L506.6 699.6M557.4 699.6L604.2 621.6M654.4 621.6L701.6 719.6M752.0 719.6L798.6 714.4M849.0 714.4L895.8000000000001 685.6" stroke="#1cc2f7" stroke-width="1.65" fill="none"/>
<path d="M118 485.2H169M215.4 540H266.6M312 500.4H363.6M409.6 691.6H461M506 699.6H558M603.6 621.6H655M701 719.6H752.6M798 714.4H849.6M895.2 685.6H946.9" stroke="#1cc2f7" stroke-width="3.4" fill="none"/>
<path d="M168.4 485.2L216.0 570M266.0 570L312.6 544.4M363.0 544.4L410.20000000000005 703M460.4 703L506.6 706M557.4 706L604.2 642M654.4 642L701.6 755.4M752.0 755.4L798.6 734.3M849.0 734.3L895.8000000000001 685.6" stroke="#c00000" stroke-width="1.65" fill="none"/>
<path d="M118 485.2H169M215.4 570H266.6M312 544.4H363.6M409.6 703H461M506 706H558M603.6 642H655M701 755.4H752.6M798 734.3H849.6M895.2 685.6H946.9" stroke="#c00000" stroke-width="3.6" fill="none"/>
<text x="121.0" y="472.6" font-size="15" textLength="30.0" lengthAdjust="spacingAndGlyphs">Slab</text>
<text x="152.2" y="479.0" font-size="9" textLength="6.2" lengthAdjust="spacingAndGlyphs" fill="#333">H</text>
<text x="158.7" y="480.4" font-size="5.5" textLength="3.0" lengthAdjust="spacingAndGlyphs" fill="#333">9</text>
<text x="162.0" y="479.0" font-size="9" textLength="7.0" lengthAdjust="spacingAndGlyphs" fill="#333">O</text>
<text x="169.4" y="480.4" font-size="5.5" textLength="3.2" lengthAdjust="spacingAndGlyphs" fill="#333">4</text>
<text x="326.0" y="490.6" font-size="15" textLength="16.2" lengthAdjust="spacingAndGlyphs">TS</text>
<text x="343.0" y="495.8" font-size="9" textLength="18.0" lengthAdjust="spacingAndGlyphs" fill="#333">C–H</text>
<text x="325.6" y="514.6" font-size="14.5" textLength="29.4" lengthAdjust="spacingAndGlyphs" fill="#1cc2f7">0.22</text>
<text x="325.6" y="560.6" font-size="14.5" textLength="28.0" lengthAdjust="spacingAndGlyphs" fill="#c00000">0.14</text>
<text x="228.0" y="586.0" font-size="15" textLength="37.0" lengthAdjust="spacingAndGlyphs">Acet*</text>
<text x="293.6" y="720.4" font-size="15" textLength="20.6" lengthAdjust="spacingAndGlyphs">CH</text>
<text x="314.6" y="724.8" font-size="10" textLength="5.6" lengthAdjust="spacingAndGlyphs">3</text>
<text x="320.6" y="720.4" font-size="15" textLength="55.2" lengthAdjust="spacingAndGlyphs">CHOCH</text>
<text x="376.0" y="724.8" font-size="10" textLength="5.6" lengthAdjust="spacingAndGlyphs">3</text>
<text x="381.6" y="720.4" font-size="15" textLength="5.2" lengthAdjust="spacingAndGlyphs">*</text>
<text x="391.8" y="720.4" font-size="15" textLength="7.4" lengthAdjust="spacingAndGlyphs">+</text>
<text x="403.4" y="720.4" font-size="15" textLength="29.6" lengthAdjust="spacingAndGlyphs">Slab</text>
<text x="434.2" y="726.8" font-size="9" textLength="6.2" lengthAdjust="spacingAndGlyphs" fill="#333">H</text>
<text x="440.7" y="728.2" font-size="5.5" textLength="3.0" lengthAdjust="spacingAndGlyphs" fill="#333">8</text>
<text x="444.0" y="726.8" font-size="9" textLength="7.0" lengthAdjust="spacingAndGlyphs" fill="#333">O</text>
<text x="451.4" y="728.2" font-size="5.5" textLength="3.2" lengthAdjust="spacingAndGlyphs" fill="#333">4</text>
<text x="474.4" y="725.6" font-size="15" textLength="20.6" lengthAdjust="spacingAndGlyphs">CH</text>
<text x="495.4" y="730.0" font-size="10" textLength="5.6" lengthAdjust="spacingAndGlyphs">3</text>
<text x="501.4" y="725.6" font-size="15" textLength="55.2" lengthAdjust="spacingAndGlyphs">CHOCH</text>
<text x="556.8" y="730.0" font-size="10" textLength="5.6" lengthAdjust="spacingAndGlyphs">3</text>
<text x="562.4" y="725.6" font-size="15" textLength="5.2" lengthAdjust="spacingAndGlyphs">*</text>
<text x="572.6" y="725.6" font-size="15" textLength="7.4" lengthAdjust="spacingAndGlyphs">+</text>
<text x="584.2" y="725.6" font-size="15" textLength="29.6" lengthAdjust="spacingAndGlyphs">Slab</text>
<text x="615.0" y="732.0" font-size="9" textLength="6.2" lengthAdjust="spacingAndGlyphs" fill="#333">H</text>
<text x="621.5" y="733.4" font-size="5.5" textLength="3.0" lengthAdjust="spacingAndGlyphs" fill="#333">9</text>
<text x="624.8" y="732.0" font-size="9" textLength="7.0" lengthAdjust="spacingAndGlyphs" fill="#333">O</text>
<text x="632.2" y="733.4" font-size="5.5" textLength="3.2" lengthAdjust="spacingAndGlyphs" fill="#333">4</text>
<text x="469.6" y="689.6" font-size="15" textLength="9.6" lengthAdjust="spacingAndGlyphs">H</text>
<text x="480.2" y="682.4" font-size="8" textLength="4.2" lengthAdjust="spacingAndGlyphs">+</text>
<text x="487.0" y="689.6" font-size="15" textLength="7.0" lengthAdjust="spacingAndGlyphs">+</text>
<text x="499.0" y="689.6" font-size="15" textLength="8.0" lengthAdjust="spacingAndGlyphs">e</text>
<text x="507.6" y="682.2" font-size="8" textLength="4.2" lengthAdjust="spacingAndGlyphs">−</text>
<text x="728.0" y="704.4" font-size="15" textLength="9.6" lengthAdjust="spacingAndGlyphs">H</text>
<text x="738.6" y="697.2" font-size="8" textLength="4.2" lengthAdjust="spacingAndGlyphs">+</text>
<text x="745.4" y="704.4" font-size="15" textLength="7.0" lengthAdjust="spacingAndGlyphs">+</text>
<text x="757.4" y="704.4" font-size="15" textLength="8.0" lengthAdjust="spacingAndGlyphs">e</text>
<text x="766.0" y="697.0" font-size="8" textLength="4.2" lengthAdjust="spacingAndGlyphs">−</text>
<text x="616.6" y="610.6" font-size="15" textLength="16.4" lengthAdjust="spacingAndGlyphs">TS</text>
<text x="634.0" y="616.0" font-size="9" textLength="19.0" lengthAdjust="spacingAndGlyphs" fill="#333">O–H</text>
<text x="616.6" y="636.6" font-size="14.5" textLength="31.0" lengthAdjust="spacingAndGlyphs" fill="#1cc2f7">0.43</text>
<text x="616.6" y="656.4" font-size="14.5" textLength="31.0" lengthAdjust="spacingAndGlyphs" fill="#c00000">0.36</text>
<text x="657.6" y="774.4" font-size="15" textLength="73.6" lengthAdjust="spacingAndGlyphs">IPA* + Slab</text>
<text x="732.2" y="780.8" font-size="9" textLength="6.2" lengthAdjust="spacingAndGlyphs" fill="#333">H</text>
<text x="738.7" y="782.2" font-size="5.5" textLength="3.0" lengthAdjust="spacingAndGlyphs" fill="#333">8</text>
<text x="742.0" y="780.8" font-size="9" textLength="7.0" lengthAdjust="spacingAndGlyphs" fill="#333">O</text>
<text x="749.4" y="782.2" font-size="5.5" textLength="3.2" lengthAdjust="spacingAndGlyphs" fill="#333">4</text>
<text x="800.5" y="751.5" font-size="15" textLength="73.6" lengthAdjust="spacingAndGlyphs">IPA* + Slab</text>
<text x="875.1" y="757.9" font-size="9" textLength="6.2" lengthAdjust="spacingAndGlyphs" fill="#333">H</text>
<text x="881.6" y="759.3" font-size="5.5" textLength="3.0" lengthAdjust="spacingAndGlyphs" fill="#333">9</text>
<text x="884.9" y="757.9" font-size="9" textLength="7.0" lengthAdjust="spacingAndGlyphs" fill="#333">O</text>
<text x="892.3" y="759.3" font-size="5.5" textLength="3.2" lengthAdjust="spacingAndGlyphs" fill="#333">4</text>
<text x="878.5" y="677.2" font-size="15" textLength="85.0" lengthAdjust="spacingAndGlyphs">IPA (l) + Slab</text>
<text x="964.7" y="682.9" font-size="9" textLength="6.2" lengthAdjust="spacingAndGlyphs" fill="#333">H</text>
<text x="971.2" y="684.3" font-size="5.5" textLength="3.0" lengthAdjust="spacingAndGlyphs" fill="#333">9</text>
<text x="974.5" y="682.9" font-size="9" textLength="7.0" lengthAdjust="spacingAndGlyphs" fill="#333">O</text>
<text x="981.9" y="684.3" font-size="5.5" textLength="3.2" lengthAdjust="spacingAndGlyphs" fill="#333">4</text>
<path d="M784.2 463.7H802.8" stroke="#c00000" stroke-width="3.3" fill="none"/>
<path d="M784.2 484.5H802.8" stroke="#1cc2f7" stroke-width="3.3" fill="none"/>
<text x="811.3" y="468.8" font-size="15" textLength="128.0" lengthAdjust="spacingAndGlyphs">3%-tensile Ru (101)</text>
<text x="811.3" y="490.0" font-size="15" textLength="52.2" lengthAdjust="spacingAndGlyphs">Ru (101)</text>
<path d="M530.7 696.5V672" stroke="#44546a" stroke-width="1.5" fill="none"/><path d="M530.7 668.8l-3.9 8.2q3.9 -2 7.8 0z" fill="#44546a"/>
<path d="M654.8 783.8L641 800" stroke="#44546a" stroke-width="1.5" fill="none"/><path d="M638.3 803.2l2.2 -8.6q1.6 3.6 5.6 4.4z" fill="#44546a"/>
</g>
</svg>
</body></html>
